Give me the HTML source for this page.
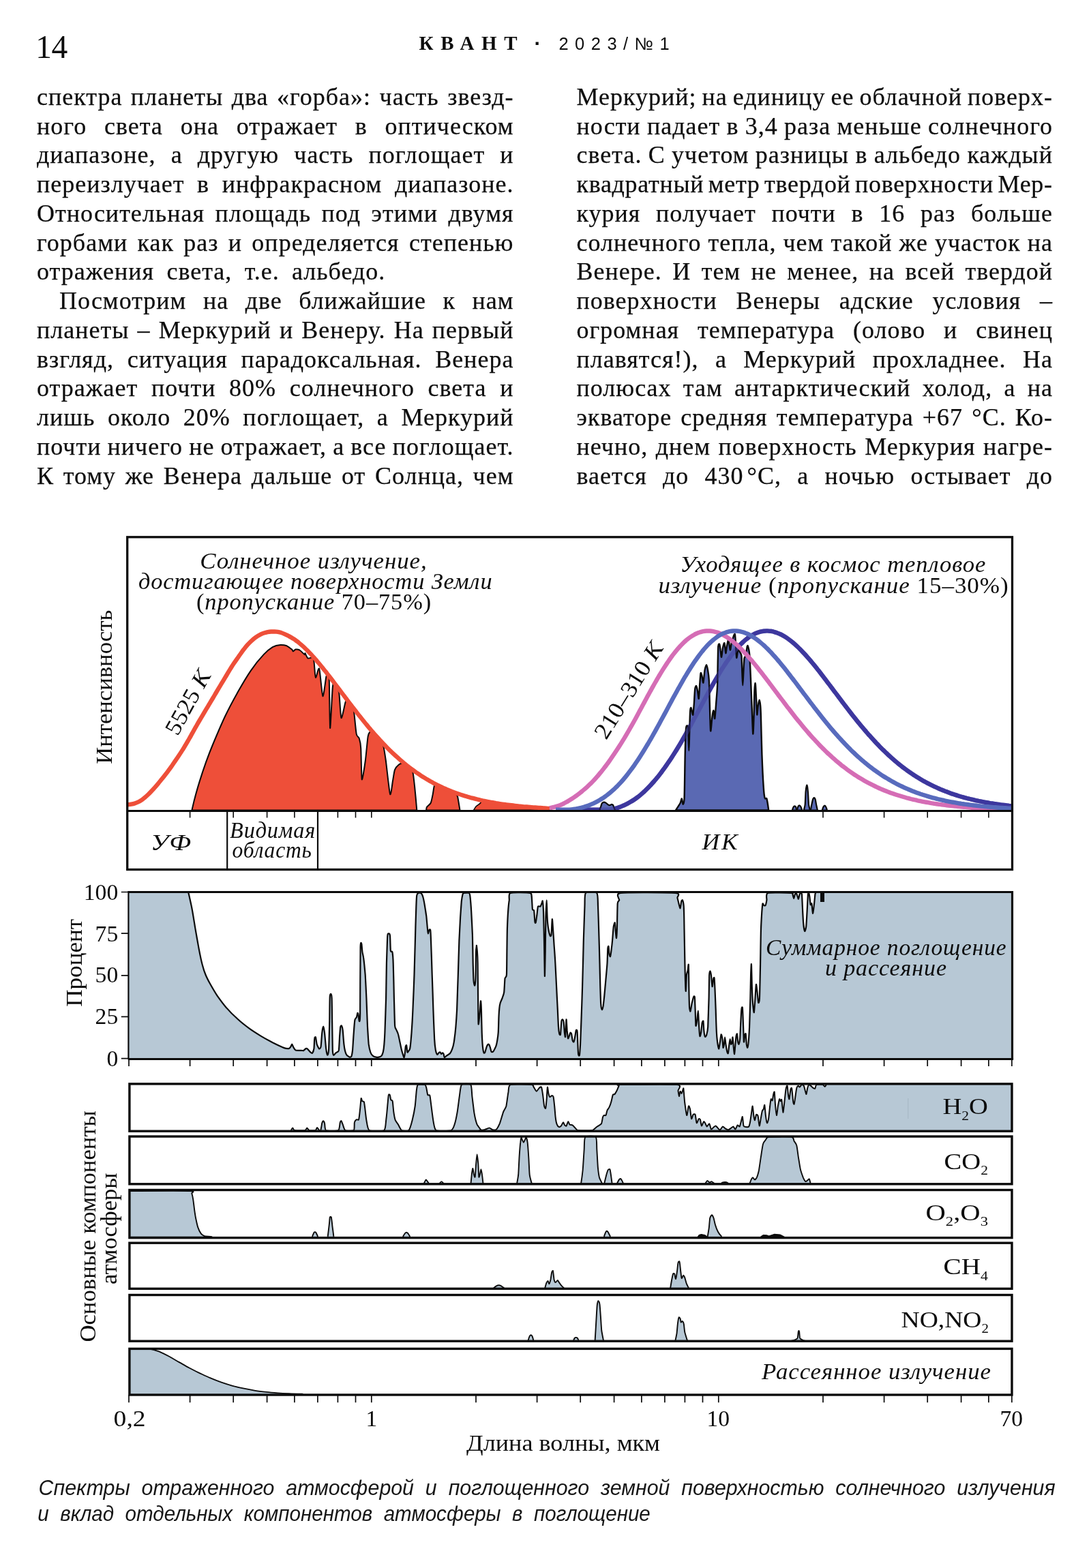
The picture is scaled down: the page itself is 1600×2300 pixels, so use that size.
<!DOCTYPE html>
<html lang="ru"><head><meta charset="utf-8"><title>Квант 2023/№1 — стр. 14</title>
<style>
html,body{margin:0;padding:0;background:#fff}
body{width:1600px;height:2300px;position:relative;overflow:hidden;color:#0d0d0d}
.ln{position:absolute;white-space:nowrap;font:36.0px/42.0px 'Liberation Serif','DejaVu Serif',serif;letter-spacing:1.0px;color:#0d0d0d;-webkit-text-stroke:.25px #0d0d0d}
.pg{position:absolute;left:52.2px;top:43.4px;font:47.5px/52px "Liberation Serif",serif;letter-spacing:-.5px}
.kv{position:absolute;left:614.5px;top:46px;font:bold 29px/34px "Liberation Serif",serif;letter-spacing:10.7px;white-space:nowrap}
.dot{position:absolute;left:783.6px;top:46.7px;font:bold 30px/34px "Liberation Sans",sans-serif}
.iss{position:absolute;left:819.4px;top:46.8px;font:25.5px/34px "Liberation Sans",sans-serif;letter-spacing:9.5px;white-space:nowrap}
.cap{position:absolute;left:57px;font:italic 30px/36px "Liberation Sans",sans-serif;white-space:nowrap;letter-spacing:.5px}
svg{position:absolute;left:0;top:0}
</style></head>
<body>
<div class="pg">14</div>
<div class="kv">КВАНТ</div><div class="dot">·</div><div class="iss">2023/№1</div>
<div class="ln" style="left:54.0px;top:120.75px;word-spacing:2.45px;">спектра планеты два «горба»: часть звезд-</div>
<div class="ln" style="left:54.0px;top:163.50px;word-spacing:15.80px;">ного света она отражает в оптическом</div>
<div class="ln" style="left:54.0px;top:206.25px;word-spacing:12.07px;">диапазоне, а другую часть поглощает и</div>
<div class="ln" style="left:54.0px;top:249.00px;word-spacing:8.60px;">переизлучает в инфракрасном диапазоне.</div>
<div class="ln" style="left:54.0px;top:291.75px;word-spacing:5.45px;">Относительная площадь под этими двумя</div>
<div class="ln" style="left:54.0px;top:334.50px;word-spacing:4.32px;">горбами как раз и определяется степенью</div>
<div class="ln" style="left:54.0px;top:377.25px;word-spacing:8.3px;">отражения света, т.е. альбедо.</div>
<div class="ln" style="left:87.0px;top:420.00px;word-spacing:14.50px;">Посмотрим на две ближайшие к нам</div>
<div class="ln" style="left:54.0px;top:462.75px;word-spacing:2.17px;">планеты – Меркурий и Венеру. На первый</div>
<div class="ln" style="left:54.0px;top:505.50px;word-spacing:9.72px;">взгляд, ситуация парадоксальная. Венера</div>
<div class="ln" style="left:54.0px;top:548.25px;word-spacing:9.72px;">отражает почти 80% солнечного света и</div>
<div class="ln" style="left:54.0px;top:591.00px;word-spacing:8.62px;">лишь около 20% поглощает, а Меркурий</div>
<div class="ln" style="left:54.0px;top:633.75px;word-spacing:-0.87px;">почти ничего не отражает, а все поглощает.</div>
<div class="ln" style="left:54.0px;top:676.50px;word-spacing:3.67px;">К тому же Венера дальше от Солнца, чем</div>
<div class="ln" style="left:845.5px;top:120.75px;word-spacing:-2.04px;">Меркурий; на единицу ее облачной поверх-</div>
<div class="ln" style="left:845.5px;top:163.50px;word-spacing:-0.71px;">ности падает в 3,4 раза меньше солнечного</div>
<div class="ln" style="left:845.5px;top:206.25px;word-spacing:-0.66px;">света. С учетом разницы в альбедо каждый</div>
<div class="ln" style="left:845.5px;top:249.00px;letter-spacing:0.70px;word-spacing:-3.20px;">квадратный метр твердой поверхности Мер-</div>
<div class="ln" style="left:845.5px;top:291.75px;word-spacing:12.76px;">курия получает почти в 16 раз больше</div>
<div class="ln" style="left:845.5px;top:334.50px;word-spacing:0.02px;">солнечного тепла, чем такой же участок на</div>
<div class="ln" style="left:845.5px;top:377.25px;word-spacing:5.47px;">Венере. И тем не менее, на всей твердой</div>
<div class="ln" style="left:845.5px;top:420.00px;word-spacing:17.78px;">поверхности Венеры адские условия –</div>
<div class="ln" style="left:845.5px;top:462.75px;word-spacing:16.89px;">огромная температура (олово и свинец</div>
<div class="ln" style="left:845.5px;top:505.50px;word-spacing:14.42px;">плавятся!), а Меркурий прохладнее. На</div>
<div class="ln" style="left:845.5px;top:548.25px;word-spacing:7.30px;">полюсах там антарктический холод, а на</div>
<div class="ln" style="left:845.5px;top:591.00px;word-spacing:3.12px;">экваторе средняя температура +67 °С. Ко-</div>
<div class="ln" style="left:845.5px;top:633.75px;word-spacing:1.45px;">нечно, днем поверхность Меркурия нагре-</div>
<div class="ln" style="left:845.5px;top:676.50px;word-spacing:13.25px;">вается до 430<span style="letter-spacing:-4px;word-spacing:0"> </span>°С, а ночью остывает до</div>
<svg width="1600" height="2300" viewBox="0 0 1600 2300">
<g stroke-linejoin="round" stroke-linecap="butt">
<path d="M281.4 1188.4C281.9 1186.5 283.9 1177.3 285.2 1172.4C286.5 1167.5 290.7 1152.5 292.7 1146.1C294.7 1139.7 299.9 1124.1 302.1 1117.9C304.3 1111.8 308.2 1101.4 311.5 1093.5C314.8 1085.6 325.9 1059.5 330.3 1050.3C334.7 1041.1 344.7 1022.4 349.1 1014.6C353.5 1006.8 363.5 990 367.9 983.6C372.2 977.2 382.9 964.1 386.7 960.1C390.4 956.1 397 950.9 399.8 949.2C402.7 947.6 408.7 946.2 411.1 946C413.5 945.8 418.5 946.6 420.5 947.3C422.4 948.1 426.9 951.7 428 952.6C429.1 953.5 429.2 955.4 429.9 955.4C430.5 955.4 432.5 952.8 433.6 952.6C434.7 952.4 437.7 952.7 439.3 953.5C440.8 954.4 445.8 959.6 446.8 960.1C447.7 960.7 447 957.6 447.5 958.2C448 958.9 450.3 964.6 451.3 965.4C452.3 966.1 455.1 965.1 456 964.8C456.9 964.5 458.4 962.2 459 963.1C459.5 964 460.2 968.7 460.7 972.3C461.1 975.9 462 992.9 462.9 993.9C463.8 994.9 467 977.6 468.2 980.8C469.4 984 472.2 1019.9 473.4 1021.2C474.6 1022.5 477.6 995.6 478.5 992.1C479.5 988.5 481 989.9 481.5 990.5C482 991.2 482.5 988.6 482.8 997.7C483.1 1006.7 483.6 1067 484.1 1068.1C484.7 1069.2 487.1 1014.7 487.9 1007.1C488.7 999.5 490.1 1002.7 490.9 1002.9C491.7 1003 494.2 1006.6 494.9 1008.2C495.7 1009.8 496.6 1011.2 497.3 1016.5C498 1021.7 499.4 1051.6 500.5 1053.1C501.6 1054.6 505.6 1032.6 506.7 1029.6C507.8 1026.7 508.9 1027.4 509.7 1027.9C510.5 1028.3 512.8 1031.9 513.7 1033.1C514.6 1034.4 517 1036.9 517.7 1038.4C518.3 1039.8 518.7 1041.1 519.3 1045.6C519.9 1050.1 521.8 1072.2 522.7 1076.6C523.5 1081 526 1080.8 526.8 1083.2C527.6 1085.6 528.8 1090.2 529.2 1097.3C529.7 1104.3 530 1141.1 530.7 1143.3C531.5 1145.5 534.8 1123.4 535.8 1116C536.8 1108.7 538.8 1085.3 539.6 1080.3C540.3 1075.4 541.7 1074.7 542.4 1073.8C543.1 1072.9 544.6 1072.4 545.4 1072.8C546.2 1073.2 548.5 1076.4 549.4 1077.4C550.3 1078.5 552.5 1080.9 553.4 1082C554.3 1083 556.4 1085 557.4 1086.4C558.4 1087.7 561.1 1090 562.1 1093.5C563.1 1097 564.7 1107.7 565.9 1116C567 1124.4 570.9 1161.6 572.1 1164.9C573.3 1168.2 575.4 1148.4 576.2 1144.2C577 1140.1 578 1131.8 579 1129.2C580 1126.6 583.3 1122.8 584.7 1121.7C586 1120.5 589.3 1119.5 590.3 1119.4C591.3 1119.3 592.5 1120.2 593.3 1120.7C594.1 1121.2 596.4 1123.2 597.3 1123.9C598.2 1124.7 600.4 1126.1 601.3 1127C602.2 1128 604.5 1128.9 605.3 1132C606.1 1135.1 607.4 1147 608.1 1153.6C608.8 1160.2 611 1184.3 611.3 1188.4Z" fill="#ee4f39" stroke="#0b0b0b" stroke-width="2"/>
<path d="M625 1188.4C625.2 1187.8 625.2 1184.9 626 1183.7C626.8 1182.5 630.6 1180 631.6 1178C632.6 1176.1 633.8 1169.7 634.4 1166.8C635.1 1163.8 636.2 1154.5 636.9 1152.7C637.5 1150.9 639.1 1151.4 639.9 1151.5C640.7 1151.6 642.9 1153.1 643.9 1153.5C644.8 1154 646.9 1155 647.9 1155.4C648.8 1155.9 650.9 1156.8 651.9 1157.2C652.8 1157.7 654.9 1158.6 655.9 1159C656.8 1159.4 658.9 1160.3 659.9 1160.7C660.8 1161 662.9 1161.9 663.9 1162.2C664.8 1162.6 667 1163 667.9 1163.7C668.7 1164.5 670.3 1165.8 671.1 1168.6C671.8 1171.5 674.1 1186.1 674.5 1188.4Z" fill="#ee4f39" stroke="#0b0b0b" stroke-width="2"/>
<path d="M694.6 1188.4C695 1187.7 697.2 1183.9 698.3 1182.7C699.4 1181.6 702.9 1179.5 703.9 1178.6C705 1177.7 706 1175.4 706.9 1175.1C707.9 1174.8 710.8 1175.9 711.9 1176.2C713.1 1176.4 715.8 1176.9 716.9 1177.2C718.1 1177.4 720.8 1177.9 721.9 1178.1C723.1 1178.3 725.8 1178.8 726.9 1179C728.1 1179.2 730.8 1179.6 731.9 1179.8C733.1 1180 735.8 1180.4 736.9 1180.5C738.1 1180.7 740.8 1181.1 741.9 1181.2C743.1 1181.4 745.8 1181.8 746.9 1181.9C748.1 1182.1 750.8 1182.4 751.9 1182.5C753.1 1182.7 755.8 1183 756.9 1183.1C758.1 1183.2 760.8 1183.5 761.9 1183.6C763.1 1183.7 765.8 1184 766.9 1184.1C768.1 1184.2 770.8 1184.5 771.9 1184.6C773.1 1184.7 775.8 1184.9 776.9 1185C778.1 1185.1 780.8 1185.3 781.9 1185.4C783.1 1185.5 785.8 1185.7 786.9 1185.8C788.1 1185.8 790.8 1186 791.9 1186.1C793.1 1186.2 795.8 1186.3 796.9 1186.4C798.1 1186.5 800.9 1186.5 801.9 1186.7C803 1186.9 805.5 1188.1 806 1188.3Z" fill="#ee4f39" stroke="#0b0b0b" stroke-width="1.6"/>
<path d="M850 1187.7C850.8 1187.7 853.3 1187.7 855 1187.7C856.7 1187.7 858.3 1187.7 860 1187.7C861.7 1187.7 863.3 1187.7 865 1187.7C866.7 1187.7 868.3 1187.7 870 1187.7C871.7 1187.7 873.3 1187.7 875 1187.7C876.7 1187.7 878.3 1187.7 880 1187.7C881.7 1187.7 883.3 1187.7 885 1187.7C886.7 1187.7 888.3 1187.7 890 1187.7C891.7 1187.7 893.3 1187.6 895 1187.4C896.7 1187.2 898.3 1186.8 900 1186.4C901.7 1186 903.3 1185.7 905 1185.2C906.7 1184.7 908.3 1184 910 1183.4C911.7 1182.7 913.3 1182 915 1181.3C916.7 1180.5 918.3 1179.7 920 1178.9C921.7 1178 923.3 1177.1 925 1176.1C926.7 1175.1 928.3 1174.1 930 1173C931.7 1171.9 933.3 1170.7 935 1169.4C936.7 1168.2 938.3 1166.8 940 1165.4C941.7 1164 943.3 1162.5 945 1161C946.7 1159.4 948.3 1157.8 950 1156.1C951.7 1154.4 953.3 1152.5 955 1150.7C956.7 1148.9 958.3 1147.1 960 1145.2C961.7 1143.3 963.3 1141.3 965 1139.2C966.7 1137.1 968.3 1134.9 970 1132.7C971.7 1130.5 973.3 1128.1 975 1125.8C976.7 1123.5 978.3 1121.1 980 1118.7C981.7 1116.2 983.3 1113.8 985 1111.2C986.7 1108.7 988.3 1106.1 990 1103.4C991.7 1100.8 993.3 1098 995 1095.3C996.7 1092.5 998.3 1089.7 1000 1086.8C1001.7 1083.9 1003.3 1081 1005 1078.1C1006.7 1075.1 1008.3 1072.1 1010 1069.1C1011.7 1066.1 1013.3 1063.1 1015 1060C1016.7 1056.9 1018.3 1053.8 1020 1050.7C1021.7 1047.6 1023.3 1044.5 1025 1041.4C1026.7 1038.3 1028.3 1035.2 1030 1032.1C1031.7 1029 1033.3 1025.9 1035 1022.9C1036.7 1019.8 1038.3 1016.7 1040 1013.7C1041.7 1010.7 1043.3 1007.7 1045 1004.8C1046.7 1001.8 1048.3 998.9 1050 996.1C1051.7 993.2 1053.3 990.4 1055 987.6C1056.7 984.9 1058.3 982.2 1060 979.6C1061.7 977 1063.3 974.4 1065 971.9C1066.7 969.5 1068.3 967.1 1070 964.8C1071.7 962.4 1073.3 960.2 1075 958.1C1076.7 955.9 1078.3 953.9 1080 952C1081.7 950 1083.3 948.2 1085 946.4C1086.7 944.7 1088.3 943 1090 941.5C1091.7 939.9 1093.3 938.5 1095 937.2C1096.7 935.9 1098.3 934.6 1100 933.5C1101.7 932.4 1103.3 931.4 1105 930.6C1106.7 929.7 1108.3 928.9 1110 928.3C1111.7 927.6 1113.3 927.1 1115 926.6C1116.7 926.2 1118.3 925.9 1120 925.7C1121.7 925.5 1123.3 925.4 1125 925.4C1126.7 925.4 1128.3 925.5 1130 925.8C1131.7 926 1133.3 926.3 1135 926.8C1136.7 927.2 1138.3 927.7 1140 928.4C1141.7 929 1143.3 929.7 1145 930.5C1146.7 931.3 1148.3 932.3 1150 933.3C1151.7 934.3 1153.3 935.3 1155 936.5C1156.7 937.7 1158.3 938.9 1160 940.2C1161.7 941.6 1163.3 943 1165 944.4C1166.7 945.9 1168.3 947.4 1170 949C1171.7 950.6 1173.3 952.3 1175 954C1176.7 955.7 1178.3 957.5 1180 959.3C1181.7 961.1 1183.3 963 1185 964.9C1186.7 966.8 1188.3 968.7 1190 970.7C1191.7 972.7 1193.3 974.7 1195 976.8C1196.7 978.9 1198.3 980.9 1200 983.1C1201.7 985.2 1203.3 987.3 1205 989.5C1206.7 991.6 1208.3 993.8 1210 996C1211.7 998.2 1213.3 1000.4 1215 1002.6C1216.7 1004.8 1218.3 1007 1220 1009.2C1221.7 1011.4 1223.3 1013.7 1225 1015.9C1226.7 1018.1 1228.3 1020.3 1230 1022.5C1231.7 1024.8 1233.3 1027 1235 1029.2C1236.7 1031.4 1238.3 1033.6 1240 1035.7C1241.7 1037.9 1243.3 1040.1 1245 1042.2C1246.7 1044.4 1248.3 1046.5 1250 1048.7C1251.7 1050.8 1253.3 1052.9 1255 1054.9C1256.7 1057 1258.3 1059.1 1260 1061.1C1261.7 1063.2 1263.3 1065.2 1265 1067.1C1266.7 1069.1 1268.3 1071.1 1270 1073C1271.7 1075 1273.3 1076.9 1275 1078.7C1276.7 1080.6 1278.3 1082.5 1280 1084.3C1281.7 1086.1 1283.3 1087.9 1285 1089.7C1286.7 1091.4 1288.3 1093.2 1290 1094.9C1291.7 1096.6 1293.3 1098.2 1295 1099.9C1296.7 1101.5 1298.3 1103.1 1300 1104.7C1301.7 1106.3 1303.3 1107.8 1305 1109.4C1306.7 1110.9 1308.3 1112.4 1310 1113.8C1311.7 1115.3 1313.3 1116.7 1315 1118.1C1316.7 1119.5 1318.3 1120.8 1320 1122.2C1321.7 1123.5 1323.3 1124.8 1325 1126.1C1326.7 1127.3 1328.3 1128.6 1330 1129.8C1331.7 1131 1333.3 1132.2 1335 1133.3C1336.7 1134.5 1338.3 1135.6 1340 1136.7C1341.7 1137.8 1343.3 1138.9 1345 1139.9C1346.7 1141 1348.3 1142 1350 1143C1351.7 1144 1353.3 1144.9 1355 1145.9C1356.7 1146.8 1358.3 1147.7 1360 1148.6C1361.7 1149.5 1363.3 1150.3 1365 1151.2C1366.7 1152 1368.3 1152.8 1370 1153.6C1371.7 1154.4 1373.3 1155.2 1375 1155.9C1376.7 1156.7 1378.3 1157.4 1380 1158.1C1381.7 1158.8 1383.3 1159.5 1385 1160.1C1386.7 1160.8 1388.3 1161.4 1390 1162.1C1391.7 1162.7 1393.3 1163.3 1395 1163.9C1396.7 1164.5 1398.3 1165 1400 1165.6C1401.7 1166.1 1403.3 1166.7 1405 1167.2C1406.7 1167.7 1408.3 1168.2 1410 1168.7C1411.7 1169.2 1413.3 1169.6 1415 1170.1C1416.7 1170.5 1418.3 1171 1420 1171.4C1421.7 1171.8 1423.3 1172.2 1425 1172.6C1426.7 1173 1428.3 1173.4 1430 1173.8C1431.7 1174.2 1433.3 1174.5 1435 1174.9C1436.7 1175.2 1438.3 1175.6 1440 1175.9C1441.7 1176.2 1443.3 1176.5 1445 1176.8C1446.7 1177.1 1448.3 1177.4 1450 1177.7C1451.7 1178 1453.3 1178.3 1455 1178.5C1456.7 1178.8 1458.3 1179 1460 1179.3C1461.7 1179.5 1463.3 1179.8 1465 1180C1466.7 1180.2 1468.3 1180.5 1470 1180.7C1471.7 1180.9 1473.3 1181.1 1475 1181.3C1476.7 1181.5 1478.5 1181.7 1480 1181.9C1481.5 1182 1483.3 1182.2 1484 1182.3" fill="none" stroke="#3d389e" stroke-width="6.4"/>
<path d="M991 1188.4C991.9 1187 996.4 1180.3 997.6 1178C998.8 1175.8 999.3 1171.2 999.8 1171.5C1000.4 1171.7 1001.2 1180 1001.7 1179.9C1002.2 1179.8 1003.2 1180.3 1003.6 1170.5C1004 1160.8 1004.4 1120.2 1004.7 1106.7C1005 1093.1 1005.6 1074.7 1006 1069.1C1006.5 1063.4 1007.5 1064.4 1007.9 1064.4C1008.3 1064.4 1008.9 1064.2 1009.2 1069.1C1009.5 1074 1010.1 1101 1010.3 1101C1010.6 1101 1011 1076.8 1011.3 1069.1C1011.5 1061.3 1011.9 1046.9 1012.2 1042.8C1012.5 1038.6 1013.2 1037.8 1013.5 1038.1C1013.9 1038.3 1014.7 1043.3 1015 1044.7C1015.4 1046 1016 1050.2 1016.4 1048.4C1016.7 1046.7 1017.5 1036.5 1017.9 1031.5C1018.2 1026.5 1018.8 1014.2 1019.2 1010.8C1019.6 1007.5 1020.6 1005.9 1021.1 1006.1C1021.6 1006.4 1022.4 1010.2 1022.9 1012.7C1023.4 1015.2 1024.4 1025.9 1024.8 1024.9C1025.2 1023.9 1025.8 1010.2 1026.1 1005.2C1026.5 1000.2 1027.2 989.1 1027.6 987.4C1028.1 985.6 1029 990.2 1029.5 992.1C1030 993.9 1030.8 1002.7 1031.4 1001.4C1031.9 1000.2 1033 986.2 1033.6 982.7C1034.3 979.2 1035.5 975.1 1036.1 975.1C1036.7 975.1 1037.5 979.7 1038 982.7C1038.5 985.7 1039.5 991.2 1039.8 997.7C1040.2 1004.2 1040.5 1021.6 1040.8 1031.5C1041.1 1041.4 1041.7 1068.6 1042.1 1071.9C1042.5 1075.2 1043.5 1059.6 1044 1055.9C1044.4 1052.3 1045.1 1046.4 1045.5 1044.7C1045.9 1042.9 1046.4 1041.5 1046.8 1042.8C1047.2 1044 1047.8 1055.6 1048.3 1054C1048.7 1052.5 1049.7 1038 1050.2 1031.5C1050.7 1025 1051.7 1014 1052.1 1005.2C1052.4 996.4 1052.6 973.5 1052.8 965.8C1053 958 1053 949.7 1053.4 947C1053.7 944.2 1054.8 944.1 1055.2 945.1C1055.7 946.1 1056.4 952 1056.7 954.5C1057.1 957 1057.6 964.4 1058.1 963.9C1058.5 963.4 1059.4 953.5 1059.9 950.7C1060.5 948 1061.8 942.2 1062.4 943.2C1063 944.2 1063.8 957.7 1064.3 958.2C1064.8 958.7 1065.6 949.6 1066.1 947C1066.7 944.3 1067.8 937.6 1068.4 938.5C1069 939.4 1070.3 952.9 1070.8 953.5C1071.4 954.2 1072.2 945.6 1072.7 943.2C1073.3 940.8 1074.3 937.4 1075 935.7C1075.6 933.9 1077.2 928.6 1077.8 930.1C1078.3 931.6 1078.8 942.3 1079.1 947C1079.4 951.6 1079.9 963.6 1080.2 964.8C1080.6 966.1 1081.4 958 1081.7 956.4C1082.1 954.7 1082.6 952.6 1083.1 952.6C1083.5 952.6 1084.4 955.1 1084.9 956.4C1085.5 957.6 1086.9 958.2 1087.4 962C1087.8 965.8 1088.1 978.8 1088.3 984.5C1088.6 990.3 1089 1005.2 1089.3 1005.2C1089.5 1005.2 1090.1 989.8 1090.4 984.5C1090.7 979.3 1091.1 968.8 1091.5 965.8C1092 962.7 1093.3 964 1093.8 962C1094.3 960 1094.9 952.7 1095.3 950.7C1095.6 948.7 1096.2 946.7 1096.6 947C1097 947.2 1097.7 950.6 1098.1 952.6C1098.5 954.6 1099 956.5 1099.4 962C1099.8 967.5 1100.4 983.4 1100.9 993.9C1101.3 1004.5 1102.3 1029.9 1102.8 1040.9C1103.2 1051.9 1103.9 1075.3 1104.3 1076.6C1104.7 1077.8 1105.3 1058.8 1105.6 1050.3C1105.9 1041.8 1106.2 1019.1 1106.5 1012.7C1106.8 1006.3 1107.5 1000.4 1107.8 1002.4C1108.2 1004.4 1108.8 1021.6 1109.2 1027.7C1109.5 1033.9 1109.9 1047.4 1110.3 1048.4C1110.6 1049.4 1111.3 1038.1 1111.8 1035.3C1112.2 1032.4 1113.2 1026.8 1113.7 1026.8C1114.1 1026.8 1114.9 1032.1 1115.2 1035.3C1115.5 1038.4 1115.6 1040.8 1115.9 1050.3C1116.2 1059.8 1116.9 1092.9 1117.4 1106.7C1117.9 1120.4 1119.1 1145.1 1119.7 1153.6C1120.2 1162.1 1120.9 1168.1 1121.6 1170.5C1122.2 1172.9 1123.8 1170 1124.4 1171.5C1125 1173 1125.9 1179.5 1126.3 1181.8C1126.6 1184.1 1127.1 1187.5 1127.2 1188.4Z" fill="#5a69b3" stroke="#0b0b0b" stroke-width="2.4"/>
<path d="M879.4 1188.2C879.6 1187.6 880.9 1183.7 881.3 1182.6C881.7 1181.4 882.4 1178.9 882.9 1178.2C883.4 1177.5 885 1176.7 885.7 1176.6C886.4 1176.6 888 1177.4 888.8 1177.9C889.6 1178.4 891.9 1180.3 892.6 1180.7C893.3 1181.1 894.3 1181.1 894.8 1181C895.3 1180.9 896.5 1179.8 897 1179.8C897.5 1179.8 898.8 1180.5 899.2 1181C899.5 1181.5 899.8 1183 900.1 1183.8C900.4 1184.7 901.8 1187.7 902 1188.2" fill="#5a69b3" stroke="#0b0b0b" stroke-width="2.2" stroke-linejoin="round"/>
<path d="M1161.9 1188.5C1162.1 1188.1 1162.8 1185.2 1163.2 1184.5C1163.6 1183.7 1164.9 1182.4 1165.4 1182.3C1165.8 1182.2 1166.9 1183.1 1167.2 1183.9C1167.6 1184.6 1168.1 1188 1168.2 1188.5Z" fill="#5a69b3" stroke="#0b0b0b" stroke-width="2.2" stroke-linejoin="round"/>
<path d="M1168.9 1188.5C1169.1 1188 1169.7 1184.7 1170.1 1183.9C1170.4 1183 1171.7 1181.4 1172.2 1181.3C1172.8 1181.3 1174 1182.4 1174.4 1183.2C1174.9 1184.1 1176.1 1187.9 1176.3 1188.5Z" fill="#5a69b3" stroke="#0b0b0b" stroke-width="2.2" stroke-linejoin="round"/>
<path d="M1178.8 1188.5C1179 1187.6 1180.4 1183.3 1180.7 1180.1C1181 1176.9 1181.4 1164.5 1181.6 1161.3C1181.9 1158.1 1182.6 1153.6 1182.9 1152.5C1183.1 1151.5 1183.6 1151.4 1183.8 1152.5C1184.1 1153.7 1184.7 1159.3 1185 1162.6C1185.2 1165.8 1185.7 1177.1 1186 1180.1C1186.4 1183.1 1187.7 1187.6 1187.9 1188.5Z" fill="#5a69b3" stroke="#0b0b0b" stroke-width="2.2" stroke-linejoin="round"/>
<path d="M1188.8 1188.5C1189 1187.6 1190 1182 1190.4 1180.1C1190.8 1178.2 1191.9 1173.1 1192.3 1172C1192.7 1170.8 1193.6 1170 1194 1170.1C1194.4 1170.1 1195.3 1171.3 1195.7 1172.6C1196.1 1173.9 1196.9 1179.5 1197.3 1181.3C1197.7 1183.2 1198.7 1187.7 1198.9 1188.5Z" fill="#5a69b3" stroke="#0b0b0b" stroke-width="2.2" stroke-linejoin="round"/>
<path d="M1205.7 1188.5C1205.9 1188 1206.9 1184.7 1207.3 1183.9C1207.8 1183 1209 1181.7 1209.5 1181.7C1210 1181.7 1211 1183 1211.4 1183.9C1211.8 1184.7 1212.8 1188 1212.9 1188.5Z" fill="#5a69b3" stroke="#0b0b0b" stroke-width="2.2" stroke-linejoin="round"/>
<path d="M187.5 1180.3C188.3 1180.2 190.8 1180 192.5 1179.7C194.2 1179.4 195.8 1179.1 197.5 1178.5C199.2 1178 200.8 1177.3 202.5 1176.5C204.2 1175.7 205.8 1174.8 207.5 1173.7C209.2 1172.5 210.8 1171.1 212.5 1169.7C214.2 1168.3 215.8 1166.8 217.5 1165.2C219.2 1163.6 220.8 1161.9 222.5 1160.1C224.2 1158.4 225.8 1156.5 227.5 1154.6C229.2 1152.7 230.8 1150.8 232.5 1148.7C234.2 1146.7 235.8 1144.5 237.5 1142.5C239.2 1140.4 240.8 1138.4 242.5 1136.3C244.2 1134.2 245.8 1132 247.5 1129.7C249.2 1127.4 250.8 1125.1 252.5 1122.7C254.2 1120.3 255.8 1117.8 257.5 1115.4C259.2 1112.9 260.8 1110.5 262.5 1108C264.2 1105.5 265.8 1103 267.5 1100.4C269.2 1097.7 270.8 1094.9 272.5 1092.1C274.2 1089.3 275.8 1086.4 277.5 1083.5C279.2 1080.6 280.8 1077.6 282.5 1074.7C284.2 1071.7 285.8 1068.6 287.5 1065.7C289.2 1062.7 290.8 1059.8 292.5 1057C294.2 1054.1 295.8 1051.4 297.5 1048.6C299.2 1045.8 300.8 1043 302.5 1040.2C304.2 1037.5 305.8 1034.7 307.5 1031.9C309.2 1029.1 310.8 1026.3 312.5 1023.5C314.2 1020.7 315.8 1017.8 317.5 1015C319.2 1012.2 320.8 1009.3 322.5 1006.6C324.2 1003.8 325.8 1001.1 327.5 998.3C329.2 995.5 330.8 992.8 332.5 990C334.2 987.2 335.8 984.3 337.5 981.6C339.2 979 340.8 976.3 342.5 973.8C344.2 971.3 345.8 969 347.5 966.6C349.2 964.2 350.8 961.8 352.5 959.5C354.2 957.1 355.8 954.7 357.5 952.6C359.2 950.4 360.8 948.3 362.5 946.4C364.2 944.5 365.8 942.8 367.5 941.2C369.2 939.6 370.8 938.1 372.5 936.7C374.2 935.4 375.8 934.2 377.5 933.2C379.2 932.1 380.8 931.2 382.5 930.4C384.2 929.6 385.8 929 387.5 928.4C389.2 927.9 390.8 927.4 392.5 927.1C394.2 926.8 395.8 926.6 397.5 926.5C399.2 926.4 400.8 926.4 402.5 926.4C404.2 926.5 405.8 926.6 407.5 926.9C409.2 927.2 410.8 927.6 412.5 928.1C414.2 928.7 415.8 929.4 417.5 930.2C419.2 930.9 420.8 931.7 422.5 932.5C424.2 933.4 425.8 934.2 427.5 935.2C429.2 936.2 430.8 937.3 432.5 938.4C434.2 939.6 435.8 940.8 437.5 942.1C439.2 943.5 440.8 944.9 442.5 946.4C444.2 947.8 445.8 949.4 447.5 951C449.2 952.6 450.8 954.3 452.5 956C454.2 957.7 455.8 959.5 457.5 961.3C459.2 963.1 460.8 965 462.5 966.9C464.2 968.8 465.8 970.8 467.5 972.8C469.2 974.8 470.8 976.8 472.5 978.9C474.2 980.9 475.8 983 477.5 985.1C479.2 987.2 480.8 989.4 482.5 991.5C484.2 993.7 485.8 995.8 487.5 998C489.2 1000.2 490.8 1002.4 492.5 1004.6C494.2 1006.8 495.8 1009 497.5 1011.2C499.2 1013.4 500.8 1015.7 502.5 1017.9C504.2 1020.1 505.8 1022.3 507.5 1024.5C509.2 1026.7 510.8 1028.9 512.5 1031.1C514.2 1033.3 515.8 1035.5 517.5 1037.7C519.2 1039.8 520.8 1042 522.5 1044.1C524.2 1046.3 525.8 1048.4 527.5 1050.5C529.2 1052.6 530.8 1054.7 532.5 1056.8C534.2 1058.8 535.8 1060.9 537.5 1062.9C539.2 1064.9 540.8 1066.9 542.5 1068.9C544.2 1070.9 545.8 1072.8 547.5 1074.7C549.2 1076.7 550.8 1078.5 552.5 1080.4C554.2 1082.3 555.8 1084.1 557.5 1085.9C559.2 1087.7 560.8 1089.5 562.5 1091.2C564.2 1093 565.8 1094.7 567.5 1096.4C569.2 1098.1 570.8 1099.7 572.5 1101.4C574.2 1103 575.8 1104.6 577.5 1106.1C579.2 1107.7 580.8 1109.2 582.5 1110.7C584.2 1112.2 585.8 1113.7 587.5 1115.1C589.2 1116.6 590.8 1118 592.5 1119.4C594.2 1120.7 595.8 1122.1 597.5 1123.4C599.2 1124.7 600.8 1126 602.5 1127.3C604.2 1128.5 605.8 1129.7 607.5 1130.9C609.2 1132.1 610.8 1133.3 612.5 1134.4C614.2 1135.6 615.8 1136.7 617.5 1137.8C619.2 1138.9 620.8 1139.9 622.5 1140.9C624.2 1142 625.8 1143 627.5 1143.9C629.2 1144.9 630.8 1145.9 632.5 1146.8C634.2 1147.7 635.8 1148.6 637.5 1149.5C639.2 1150.4 640.8 1151.2 642.5 1152C644.2 1152.9 645.8 1153.7 647.5 1154.4C649.2 1155.2 650.8 1156 652.5 1156.7C654.2 1157.4 655.8 1158.2 657.5 1158.8C659.2 1159.5 660.8 1160.2 662.5 1160.9C664.2 1161.5 665.8 1162.1 667.5 1162.8C669.2 1163.4 670.8 1164 672.5 1164.5C674.2 1165.1 675.8 1165.7 677.5 1166.2C679.2 1166.7 680.8 1167.3 682.5 1167.8C684.2 1168.3 685.8 1168.8 687.5 1169.2C689.2 1169.7 690.8 1170.2 692.5 1170.6C694.2 1171.1 695.8 1171.5 697.5 1171.9C699.2 1172.3 700.8 1172.7 702.5 1173.1C704.2 1173.5 705.8 1173.9 707.5 1174.3C709.2 1174.6 710.8 1175 712.5 1175.3C714.2 1175.7 715.8 1176 717.5 1176.3C719.2 1176.6 720.8 1176.9 722.5 1177.2C724.2 1177.5 725.8 1177.8 727.5 1178.1C729.2 1178.3 730.8 1178.6 732.5 1178.9C734.2 1179.1 735.8 1179.4 737.5 1179.6C739.2 1179.8 740.8 1180.1 742.5 1180.3C744.2 1180.5 745.8 1180.7 747.5 1180.9C749.2 1181.1 750.8 1181.3 752.5 1181.5C754.2 1181.7 755.8 1181.9 757.5 1182.1C759.2 1182.3 760.8 1182.4 762.5 1182.6C764.2 1182.8 765.8 1182.9 767.5 1183.1C769.2 1183.2 770.8 1183.4 772.5 1183.5C774.2 1183.7 775.8 1183.8 777.5 1183.9C779.2 1184.1 780.8 1184.2 782.5 1184.3C784.2 1184.4 785.8 1184.6 787.5 1184.7C789.2 1184.8 790.8 1184.9 792.5 1185C794.2 1185.1 795.8 1185.2 797.5 1185.3C799.2 1185.4 801.1 1185.5 802.5 1185.6C803.9 1185.6 805.4 1185.7 806 1185.8" fill="none" stroke="#ee4f39" stroke-width="6.3"/>
<path d="M850 1187.7C850.8 1187.7 853.3 1187.7 855 1187.7C856.7 1187.7 858.3 1187.7 860 1187.7C861.7 1187.7 863.3 1187.7 865 1187.7C866.7 1187.7 868.3 1187.7 870 1187.7C871.7 1187.7 873.3 1187.7 875 1187.7C876.7 1187.7 878.3 1187.7 880 1187.7C881.7 1187.7 883.3 1187.7 885 1187.7C886.7 1187.7 888.3 1187.7 890 1187.7C891.7 1187.7 893.3 1187.6 895 1187.4C896.7 1187.2 898.3 1186.8 900 1186.4C901.7 1186 903.3 1185.7 905 1185.2C906.7 1184.7 908.3 1184 910 1183.4C911.7 1182.7 913.3 1182 915 1181.3C916.7 1180.5 918.3 1179.7 920 1178.9C921.7 1178 923.3 1177.1 925 1176.1C926.7 1175.1 928.3 1174.1 930 1173C931.7 1171.9 933.3 1170.7 935 1169.4C936.7 1168.2 938.3 1166.8 940 1165.4C941.7 1164 943.3 1162.5 945 1161C946.7 1159.4 948.3 1157.8 950 1156.1C951.7 1154.4 953.3 1152.5 955 1150.7C956.7 1148.9 958.3 1147.1 960 1145.2C961.7 1143.3 963.3 1141.3 965 1139.2C966.7 1137.1 968.3 1134.9 970 1132.7C971.7 1130.5 973.3 1128.1 975 1125.8C976.7 1123.5 978.3 1121.1 980 1118.7C981.7 1116.2 983.3 1113.8 985 1111.2C986.7 1108.7 988.3 1106.1 990 1103.4C991.7 1100.8 993.3 1098 995 1095.3C996.7 1092.5 998.3 1089.7 1000 1086.8C1001.7 1083.9 1003.3 1081 1005 1078.1C1006.7 1075.1 1008.3 1072.1 1010 1069.1C1011.7 1066.1 1013.3 1063.1 1015 1060C1016.7 1056.9 1018.3 1053.8 1020 1050.7C1021.7 1047.6 1023.3 1044.5 1025 1041.4C1026.7 1038.3 1028.3 1035.2 1030 1032.1C1031.7 1029 1033.3 1025.9 1035 1022.9C1036.7 1019.8 1038.3 1016.7 1040 1013.7C1041.7 1010.7 1043.3 1007.7 1045 1004.8C1046.7 1001.8 1048.3 998.9 1050 996.1C1051.7 993.2 1053.3 990.4 1055 987.6C1056.7 984.9 1058.3 982.2 1060 979.6C1061.7 977 1063.3 974.4 1065 971.9C1066.7 969.5 1068.3 967.1 1070 964.8C1071.7 962.4 1073.3 960.2 1075 958.1C1076.7 955.9 1078.3 953.9 1080 952C1081.7 950 1083.3 948.2 1085 946.4C1086.7 944.7 1088.3 943 1090 941.5C1091.7 939.9 1093.3 938.5 1095 937.2C1096.7 935.9 1098.3 934.6 1100 933.5C1101.7 932.4 1103.3 931.4 1105 930.6C1106.7 929.7 1108.3 928.9 1110 928.3C1111.7 927.6 1113.3 927.1 1115 926.6C1116.7 926.2 1118.3 925.9 1120 925.7C1121.7 925.5 1123.3 925.4 1125 925.4C1126.7 925.4 1128.3 925.5 1130 925.8C1131.7 926 1133.3 926.3 1135 926.8C1136.7 927.2 1138.3 927.7 1140 928.4C1141.7 929 1143.3 929.7 1145 930.5C1146.7 931.3 1148.3 932.3 1150 933.3C1151.7 934.3 1153.3 935.3 1155 936.5C1156.7 937.7 1158.3 938.9 1160 940.2C1161.7 941.6 1163.3 943 1165 944.4C1166.7 945.9 1168.3 947.4 1170 949C1171.7 950.6 1173.3 952.3 1175 954C1176.7 955.7 1178.3 957.5 1180 959.3C1181.7 961.1 1183.3 963 1185 964.9C1186.7 966.8 1188.3 968.7 1190 970.7C1191.7 972.7 1193.3 974.7 1195 976.8C1196.7 978.9 1198.3 980.9 1200 983.1C1201.7 985.2 1203.3 987.3 1205 989.5C1206.7 991.6 1208.3 993.8 1210 996C1211.7 998.2 1213.3 1000.4 1215 1002.6C1216.7 1004.8 1218.3 1007 1220 1009.2C1221.7 1011.4 1223.3 1013.7 1225 1015.9C1226.7 1018.1 1228.3 1020.3 1230 1022.5C1231.7 1024.8 1233.3 1027 1235 1029.2C1236.7 1031.4 1238.3 1033.6 1240 1035.7C1241.7 1037.9 1243.3 1040.1 1245 1042.2C1246.7 1044.4 1248.3 1046.5 1250 1048.7C1251.7 1050.8 1253.3 1052.9 1255 1054.9C1256.7 1057 1258.3 1059.1 1260 1061.1C1261.7 1063.2 1263.3 1065.2 1265 1067.1C1266.7 1069.1 1268.3 1071.1 1270 1073C1271.7 1075 1273.3 1076.9 1275 1078.7C1276.7 1080.6 1278.3 1082.5 1280 1084.3C1281.7 1086.1 1283.3 1087.9 1285 1089.7C1286.7 1091.4 1288.3 1093.2 1290 1094.9C1291.7 1096.6 1293.3 1098.2 1295 1099.9C1296.7 1101.5 1298.3 1103.1 1300 1104.7C1301.7 1106.3 1303.3 1107.8 1305 1109.4C1306.7 1110.9 1308.3 1112.4 1310 1113.8C1311.7 1115.3 1313.3 1116.7 1315 1118.1C1316.7 1119.5 1318.3 1120.8 1320 1122.2C1321.7 1123.5 1323.3 1124.8 1325 1126.1C1326.7 1127.3 1328.3 1128.6 1330 1129.8C1331.7 1131 1333.3 1132.2 1335 1133.3C1336.7 1134.5 1338.3 1135.6 1340 1136.7C1341.7 1137.8 1343.3 1138.9 1345 1139.9C1346.7 1141 1348.3 1142 1350 1143C1351.7 1144 1353.3 1144.9 1355 1145.9C1356.7 1146.8 1358.3 1147.7 1360 1148.6C1361.7 1149.5 1363.3 1150.3 1365 1151.2C1366.7 1152 1368.3 1152.8 1370 1153.6C1371.7 1154.4 1373.3 1155.2 1375 1155.9C1376.7 1156.7 1378.3 1157.4 1380 1158.1C1381.7 1158.8 1383.3 1159.5 1385 1160.1C1386.7 1160.8 1388.3 1161.4 1390 1162.1C1391.7 1162.7 1393.3 1163.3 1395 1163.9C1396.7 1164.5 1398.3 1165 1400 1165.6C1401.7 1166.1 1403.3 1166.7 1405 1167.2C1406.7 1167.7 1408.3 1168.2 1410 1168.7C1411.7 1169.2 1413.3 1169.6 1415 1170.1C1416.7 1170.5 1418.3 1171 1420 1171.4C1421.7 1171.8 1423.3 1172.2 1425 1172.6C1426.7 1173 1428.3 1173.4 1430 1173.8C1431.7 1174.2 1433.3 1174.5 1435 1174.9C1436.7 1175.2 1438.3 1175.6 1440 1175.9C1441.7 1176.2 1443.3 1176.5 1445 1176.8C1446.7 1177.1 1448.3 1177.4 1450 1177.7C1451.7 1178 1453.3 1178.3 1455 1178.5C1456.7 1178.8 1458.3 1179 1460 1179.3C1461.7 1179.5 1463.3 1179.8 1465 1180C1466.7 1180.2 1468.3 1180.5 1470 1180.7C1471.7 1180.9 1473.3 1181.1 1475 1181.3C1476.7 1181.5 1478.5 1181.7 1480 1181.9C1481.5 1182 1483.3 1182.2 1484 1182.3" fill="none" stroke="#3d389e" stroke-width="6.4" opacity="0.45"/>
<path d="M806 1185.4C806.8 1185.2 809.3 1184.6 811 1184.2C812.7 1183.8 814.3 1183.3 816 1182.8C817.7 1182.3 819.3 1181.8 821 1181.2C822.7 1180.6 824.3 1179.8 826 1179C827.7 1178.2 829.3 1177.3 831 1176.3C832.7 1175.4 834.3 1174.3 836 1173.3C837.7 1172.2 839.3 1171.2 841 1170.1C842.7 1169 844.3 1167.8 846 1166.6C847.7 1165.4 849.3 1164.1 851 1162.8C852.7 1161.4 854.3 1160 856 1158.6C857.7 1157.2 859.3 1155.8 861 1154.3C862.7 1152.8 864.3 1151.3 866 1149.6C867.7 1148 869.3 1146.3 871 1144.5C872.7 1142.7 874.3 1140.8 876 1138.9C877.7 1137 879.3 1134.9 881 1132.9C882.7 1130.8 884.3 1128.8 886 1126.6C887.7 1124.5 889.3 1122.2 891 1120C892.7 1117.7 894.3 1115.3 896 1112.9C897.7 1110.5 899.3 1108 901 1105.5C902.7 1103 904.3 1100.6 906 1098C907.7 1095.5 909.3 1092.8 911 1090.2C912.7 1087.5 914.3 1084.8 916 1082.1C917.7 1079.3 919.3 1076.4 921 1073.6C922.7 1070.7 924.3 1067.8 926 1064.9C927.7 1062 929.3 1059 931 1056C932.7 1053 934.3 1049.8 936 1046.7C937.7 1043.6 939.3 1040.5 941 1037.4C942.7 1034.3 944.3 1031.2 946 1028.1C947.7 1025 949.3 1021.9 951 1018.9C952.7 1015.8 954.3 1012.8 956 1009.8C957.7 1006.8 959.3 1003.9 961 1001C962.7 998.1 964.3 995.2 966 992.4C967.7 989.6 969.3 986.8 971 984.1C972.7 981.4 974.3 978.8 976 976.2C977.7 973.7 979.3 971.2 981 968.8C982.7 966.4 984.3 964 986 961.8C987.7 959.6 989.3 957.4 991 955.4C992.7 953.3 994.3 951.3 996 949.5C997.7 947.6 999.3 945.9 1001 944.2C1002.7 942.5 1004.3 941 1006 939.5C1007.7 938.1 1009.3 936.7 1011 935.5C1012.7 934.3 1014.3 933.2 1016 932.2C1017.7 931.2 1019.3 930.3 1021 929.5C1022.7 928.7 1024.3 928 1026 927.5C1027.7 926.9 1029.3 926.5 1031 926.1C1032.7 925.8 1034.3 925.6 1036 925.5C1037.7 925.4 1039.3 925.4 1041 925.5C1042.7 925.6 1044.3 925.8 1046 926.1C1047.7 926.4 1049.3 926.9 1051 927.4C1052.7 927.9 1054.3 928.5 1056 929.2C1057.7 929.9 1059.3 930.7 1061 931.6C1062.7 932.5 1064.3 933.5 1066 934.6C1067.7 935.7 1069.3 936.8 1071 938.1C1072.7 939.3 1074.3 940.6 1076 942C1077.7 943.4 1079.3 944.8 1081 946.4C1082.7 947.9 1084.3 949.5 1086 951.1C1087.7 952.8 1089.3 954.5 1091 956.2C1092.7 958 1094.3 959.8 1096 961.7C1097.7 963.5 1099.3 965.4 1101 967.4C1102.7 969.3 1104.3 971.3 1106 973.3C1107.7 975.3 1109.3 977.4 1111 979.5C1112.7 981.6 1114.3 983.7 1116 985.8C1117.7 987.9 1119.3 990.1 1121 992.3C1122.7 994.4 1124.3 996.6 1126 998.8C1127.7 1001 1129.3 1003.2 1131 1005.4C1132.7 1007.7 1134.3 1009.9 1136 1012.1C1137.7 1014.3 1139.3 1016.5 1141 1018.8C1142.7 1021 1144.3 1023.2 1146 1025.4C1147.7 1027.6 1149.3 1029.8 1151 1032C1152.7 1034.2 1154.3 1036.4 1156 1038.6C1157.7 1040.7 1159.3 1042.9 1161 1045C1162.7 1047.2 1164.3 1049.3 1166 1051.4C1167.7 1053.5 1169.3 1055.6 1171 1057.6C1172.7 1059.7 1174.3 1061.7 1176 1063.7C1177.7 1065.8 1179.3 1067.7 1181 1069.7C1182.7 1071.7 1184.3 1073.6 1186 1075.5C1187.7 1077.4 1189.3 1079.3 1191 1081.2C1192.7 1083 1194.3 1084.8 1196 1086.6C1197.7 1088.4 1199.3 1090.2 1201 1091.9C1202.7 1093.7 1204.3 1095.4 1206 1097.1C1207.7 1098.7 1209.3 1100.4 1211 1102C1212.7 1103.6 1214.3 1105.2 1216 1106.7C1217.7 1108.3 1219.3 1109.8 1221 1111.3C1222.7 1112.8 1224.3 1114.3 1226 1115.7C1227.7 1117.1 1229.3 1118.5 1231 1119.9C1232.7 1121.2 1234.3 1122.6 1236 1123.9C1237.7 1125.2 1239.3 1126.5 1241 1127.7C1242.7 1129 1244.3 1130.2 1246 1131.4C1247.7 1132.5 1249.3 1133.7 1251 1134.8C1252.7 1136 1254.3 1137.1 1256 1138.1C1257.7 1139.2 1259.3 1140.2 1261 1141.3C1262.7 1142.3 1264.3 1143.3 1266 1144.2C1267.7 1145.2 1269.3 1146.1 1271 1147.1C1272.7 1148 1274.3 1148.9 1276 1149.7C1277.7 1150.6 1279.3 1151.4 1281 1152.2C1282.7 1153.1 1284.3 1153.9 1286 1154.6C1287.7 1155.4 1289.3 1156.1 1291 1156.9C1292.7 1157.6 1294.3 1158.3 1296 1159C1297.7 1159.7 1299.3 1160.3 1301 1161C1302.7 1161.6 1304.3 1162.3 1306 1162.9C1307.7 1163.5 1309.3 1164.1 1311 1164.6C1312.7 1165.2 1314.3 1165.8 1316 1166.3C1317.7 1166.8 1319.3 1167.3 1321 1167.8C1322.7 1168.3 1324.3 1168.8 1326 1169.3C1327.7 1169.8 1329.3 1170.2 1331 1170.7C1332.7 1171.1 1334.3 1171.5 1336 1172C1337.7 1172.4 1339.3 1172.8 1341 1173.2C1342.7 1173.5 1344.3 1173.9 1346 1174.3C1347.7 1174.6 1349.3 1175 1351 1175.3C1352.7 1175.7 1354.3 1176 1356 1176.3C1357.7 1176.6 1359.3 1176.9 1361 1177.2C1362.7 1177.5 1364.3 1177.8 1366 1178.1C1367.7 1178.3 1369.3 1178.6 1371 1178.9C1372.7 1179.1 1374.3 1179.4 1376 1179.6C1377.7 1179.8 1379.3 1180.1 1381 1180.3C1382.7 1180.5 1384.3 1180.7 1386 1180.9C1387.7 1181.1 1389.3 1181.3 1391 1181.5C1392.7 1181.7 1394.3 1181.9 1396 1182.1C1397.7 1182.3 1399.3 1182.4 1401 1182.6C1402.7 1182.8 1404.3 1182.9 1406 1183.1C1407.7 1183.2 1409.3 1183.4 1411 1183.5C1412.7 1183.7 1414.3 1183.8 1416 1183.9C1417.7 1184.1 1419.3 1184.2 1421 1184.3C1422.7 1184.4 1424.3 1184.6 1426 1184.7C1427.7 1184.8 1429.3 1184.9 1431 1185C1432.7 1185.1 1434.3 1185.2 1436 1185.3C1437.7 1185.4 1439.3 1185.5 1441 1185.6C1442.7 1185.7 1444.3 1185.8 1446 1185.9C1447.7 1185.9 1449.3 1186 1451 1186.1C1452.7 1186.2 1454.3 1186.3 1456 1186.3C1457.7 1186.4 1459.3 1186.5 1461 1186.5C1462.7 1186.6 1464.3 1186.7 1466 1186.7C1467.7 1186.8 1469.3 1186.8 1471 1186.9C1472.7 1187 1474.3 1187 1476 1187.1C1477.7 1187.1 1479.7 1187.2 1481 1187.2C1482.3 1187.3 1483.5 1187.3 1484 1187.3" fill="none" stroke="#d56db5" stroke-width="6.4"/>
<path d="M815 1187.7C815.8 1187.7 818.3 1187.7 820 1187.7C821.7 1187.7 823.3 1187.7 825 1187.7C826.7 1187.7 828.3 1187.7 830 1187.7C831.7 1187.7 833.3 1187.8 835 1187.7C836.7 1187.6 838.3 1187.5 840 1187.3C841.7 1187.1 843.3 1186.7 845 1186.4C846.7 1186.1 848.3 1185.8 850 1185.4C851.7 1185 853.3 1184.6 855 1184.2C856.7 1183.7 858.3 1183.2 860 1182.6C861.7 1182 863.3 1181.4 865 1180.7C866.7 1180.1 868.3 1179.3 870 1178.6C871.7 1177.8 873.3 1177 875 1176.1C876.7 1175.2 878.3 1174.3 880 1173.3C881.7 1172.3 883.3 1171.2 885 1170.1C886.7 1168.9 888.3 1167.7 890 1166.5C891.7 1165.2 893.3 1163.9 895 1162.5C896.7 1161.1 898.3 1159.7 900 1158.2C901.7 1156.6 903.3 1155 905 1153.4C906.7 1151.7 908.3 1149.9 910 1148.1C911.7 1146.3 913.3 1144.4 915 1142.4C916.7 1140.4 918.3 1138.4 920 1136.2C921.7 1134.1 923.3 1132 925 1129.7C926.7 1127.5 928.3 1125.2 930 1122.8C931.7 1120.4 933.3 1118 935 1115.5C936.7 1113 938.3 1110.4 940 1107.8C941.7 1105.1 943.3 1102.5 945 1099.8C946.7 1097.1 948.3 1094.3 950 1091.5C951.7 1088.7 953.3 1085.8 955 1082.9C956.7 1080 958.3 1077 960 1074.1C961.7 1071.1 963.3 1068.1 965 1065C966.7 1062 968.3 1058.9 970 1055.8C971.7 1052.8 973.3 1049.7 975 1046.6C976.7 1043.5 978.3 1040.3 980 1037.2C981.7 1034.1 983.3 1031 985 1027.9C986.7 1024.9 988.3 1021.8 990 1018.7C991.7 1015.7 993.3 1012.7 995 1009.7C996.7 1006.7 998.3 1003.7 1000 1000.8C1001.7 997.9 1003.3 995 1005 992.2C1006.7 989.4 1008.3 986.7 1010 984C1011.7 981.3 1013.3 978.6 1015 976.1C1016.7 973.5 1018.3 971.1 1020 968.7C1021.7 966.3 1023.3 963.9 1025 961.7C1026.7 959.5 1028.3 957.3 1030 955.3C1031.7 953.2 1033.3 951.2 1035 949.4C1036.7 947.5 1038.3 945.8 1040 944.1C1041.7 942.5 1043.3 940.9 1045 939.5C1046.7 938 1048.3 936.7 1050 935.5C1051.7 934.2 1053.3 933.1 1055 932.1C1056.7 931.1 1058.3 930.2 1060 929.4C1061.7 928.7 1063.3 928 1065 927.4C1066.7 926.9 1068.3 926.5 1070 926.1C1071.7 925.8 1073.3 925.6 1075 925.5C1076.7 925.4 1078.3 925.4 1080 925.5C1081.7 925.6 1083.3 925.8 1085 926.1C1086.7 926.4 1088.3 926.9 1090 927.4C1091.7 927.9 1093.3 928.5 1095 929.3C1096.7 930 1098.3 930.8 1100 931.7C1101.7 932.6 1103.3 933.6 1105 934.7C1106.7 935.7 1108.3 936.9 1110 938.1C1111.7 939.4 1113.3 940.7 1115 942.1C1116.7 943.5 1118.3 944.9 1120 946.4C1121.7 948 1123.3 949.6 1125 951.2C1126.7 952.8 1128.3 954.6 1130 956.3C1131.7 958.1 1133.3 959.9 1135 961.8C1136.7 963.6 1138.3 965.5 1140 967.5C1141.7 969.4 1143.3 971.4 1145 973.4C1146.7 975.5 1148.3 977.5 1150 979.6C1151.7 981.7 1153.3 983.8 1155 985.9C1156.7 988 1158.3 990.2 1160 992.4C1161.7 994.5 1163.3 996.7 1165 998.9C1166.7 1001.1 1168.3 1003.3 1170 1005.6C1171.7 1007.8 1173.3 1010 1175 1012.2C1176.7 1014.4 1178.3 1016.7 1180 1018.9C1181.7 1021.1 1183.3 1023.3 1185 1025.5C1186.7 1027.7 1188.3 1029.9 1190 1032.1C1191.7 1034.3 1193.3 1036.5 1195 1038.7C1196.7 1040.8 1198.3 1043 1200 1045.1C1201.7 1047.3 1203.3 1049.4 1205 1051.5C1206.7 1053.6 1208.3 1055.7 1210 1057.7C1211.7 1059.8 1213.3 1061.8 1215 1063.8C1216.7 1065.9 1218.3 1067.9 1220 1069.8C1221.7 1071.8 1223.3 1073.7 1225 1075.6C1226.7 1077.5 1228.3 1079.4 1230 1081.3C1231.7 1083.1 1233.3 1084.9 1235 1086.7C1236.7 1088.5 1238.3 1090.3 1240 1092C1241.7 1093.8 1243.3 1095.5 1245 1097.2C1246.7 1098.8 1248.3 1100.5 1250 1102.1C1251.7 1103.7 1253.3 1105.3 1255 1106.8C1256.7 1108.4 1258.3 1109.9 1260 1111.4C1261.7 1112.9 1263.3 1114.3 1265 1115.8C1266.7 1117.2 1268.3 1118.6 1270 1119.9C1271.7 1121.3 1273.3 1122.6 1275 1124C1276.7 1125.3 1278.3 1126.5 1280 1127.8C1281.7 1129 1283.3 1130.2 1285 1131.4C1286.7 1132.6 1288.3 1133.8 1290 1134.9C1291.7 1136 1293.3 1137.1 1295 1138.2C1296.7 1139.3 1298.3 1140.3 1300 1141.3C1301.7 1142.3 1303.3 1143.3 1305 1144.3C1306.7 1145.3 1308.3 1146.2 1310 1147.1C1311.7 1148 1313.3 1148.9 1315 1149.8C1316.7 1150.6 1318.3 1151.5 1320 1152.3C1321.7 1153.1 1323.3 1153.9 1325 1154.7C1326.7 1155.4 1328.3 1156.2 1330 1156.9C1331.7 1157.6 1333.3 1158.3 1335 1159C1336.7 1159.7 1338.3 1160.4 1340 1161C1341.7 1161.7 1343.3 1162.3 1345 1162.9C1346.7 1163.5 1348.3 1164.1 1350 1164.7C1351.7 1165.2 1353.3 1165.8 1355 1166.3C1356.7 1166.9 1358.3 1167.4 1360 1167.9C1361.7 1168.4 1363.3 1168.9 1365 1169.3C1366.7 1169.8 1368.3 1170.3 1370 1170.7C1371.7 1171.1 1373.3 1171.6 1375 1172C1376.7 1172.4 1378.3 1172.8 1380 1173.2C1381.7 1173.6 1383.3 1173.9 1385 1174.3C1386.7 1174.7 1388.3 1175 1390 1175.3C1391.7 1175.7 1393.3 1176 1395 1176.3C1396.7 1176.6 1398.3 1176.9 1400 1177.2C1401.7 1177.5 1403.3 1177.8 1405 1178.1C1406.7 1178.4 1408.3 1178.6 1410 1178.9C1411.7 1179.1 1413.3 1179.4 1415 1179.6C1416.7 1179.9 1418.3 1180.1 1420 1180.3C1421.7 1180.5 1423.3 1180.7 1425 1180.9C1426.7 1181.2 1428.3 1181.4 1430 1181.5C1431.7 1181.7 1433.3 1181.9 1435 1182.1C1436.7 1182.3 1438.3 1182.4 1440 1182.6C1441.7 1182.8 1443.3 1182.9 1445 1183.1C1446.7 1183.2 1448.3 1183.4 1450 1183.5C1451.7 1183.7 1453.3 1183.8 1455 1183.9C1456.7 1184.1 1458.3 1184.2 1460 1184.3C1461.7 1184.5 1463.3 1184.6 1465 1184.7C1466.7 1184.8 1468.3 1184.9 1470 1185C1471.7 1185.1 1473.3 1185.2 1475 1185.3C1476.7 1185.4 1478.5 1185.5 1480 1185.6C1481.5 1185.7 1483.3 1185.8 1484 1185.8" fill="none" stroke="#586bbd" stroke-width="6.4"/>
</g>
<path d="M188 1189.5H1483" stroke="#0b0b0b" stroke-width="3" fill="none"/>
<path d="M278.6 1189.5V1199.5M342.2 1189.5V1199.5M391.6 1189.5V1199.5M431.9 1189.5V1199.5M495.4 1189.5V1199.5M521.5 1189.5V1199.5M544.8 1189.5V1199.5M1207 1189.5V1199.5M1296.6 1189.5V1199.5M1360.2 1189.5V1199.5M1409.6 1189.5V1199.5M1449.9 1189.5V1199.5" stroke="#0b0b0b" stroke-width="1.6" fill="none"/>
<path d="M333.2 1189.5V1275.5M466 1189.5V1275.5" stroke="#0b0b0b" stroke-width="2.2" fill="none"/>
<rect x="186.7" y="787.8" width="1297.8" height="487.70000000000005" fill="none" stroke="#0b0b0b" stroke-width="3.3"/>
<path d="M188.4 1308.5L276.4 1308.5L276.4 1309.4C276.9 1311.7 280.4 1326.9 281.4 1332.2C282.5 1337.5 285.5 1356.7 286.5 1362.6C287.5 1368.5 290.6 1386.1 291.6 1391.4C292.6 1396.6 295.6 1411.1 296.7 1415C297.7 1418.9 300.5 1427.4 301.7 1430.2C302.9 1433.1 306.8 1440.7 308.5 1443.8C310.2 1446.8 316.3 1457.2 318.6 1460.7C321 1464.1 329.1 1475 332.2 1478.4C335.2 1481.9 345.7 1492.3 349.1 1495.3C352.4 1498.4 362.6 1506.4 366 1508.9C369.3 1511.3 379.5 1517.8 382.9 1519.9C386.3 1521.9 396.4 1527.4 399.8 1529.2C403.2 1530.9 414.3 1536.2 416.7 1537.1C419.1 1538 422.5 1538.2 423.4 1538.1C424.4 1538 425.5 1536.6 426 1535.9C426.5 1535.3 427.8 1531.7 428.2 1531.7C428.6 1531.7 429.7 1535 430.2 1535.9C430.8 1536.8 432.2 1540 433.6 1540.5C434.9 1541 442.6 1540.9 443.7 1541C444.9 1541 444.7 1541.3 445.2 1541C445.7 1540.7 448 1538.3 448.6 1538.1C449.2 1537.9 450.5 1538.2 451.1 1538.8C451.8 1539.3 454.7 1542.9 455.4 1543.5C456 1544.1 457.4 1545.4 457.9 1544.9C458.4 1544.4 460.1 1540.6 460.4 1538.4C460.8 1536.3 461 1524.9 461.3 1523.2C461.5 1521.5 462.6 1520.7 463 1521.5C463.3 1522.4 464.2 1530 464.7 1531.7C465.2 1533.4 467.4 1538.1 468 1538.4C468.6 1538.8 470.2 1537.4 470.6 1535.1C471 1532.7 471.9 1517.7 472.3 1514.8C472.6 1511.8 473.9 1505.5 474.3 1505.5C474.7 1505.5 475.6 1511.5 476 1514.8C476.4 1518.1 477.8 1535.2 478.2 1538.4C478.6 1541.7 479.8 1547.6 480.2 1547.7C480.6 1547.9 481.8 1545.1 482.1 1540.1C482.4 1535.2 483.1 1505.7 483.3 1497.9C483.4 1490 483.5 1465.5 483.8 1461.5C484 1457.6 485.2 1457.9 485.5 1458.1C485.7 1458.4 486.5 1460.1 486.6 1464.1C486.8 1468 487 1490.3 487.1 1497.9C487.3 1505.5 487.6 1535.2 487.8 1540.1C488 1545.1 488.7 1547.3 489.2 1547.7C489.6 1548.2 491.8 1545 492.6 1544.4C493.3 1543.7 496.2 1543.4 496.8 1541C497.3 1538.5 497.9 1523.3 498.1 1519.9C498.4 1516.4 499 1507.8 499.3 1506.3C499.6 1504.8 500.7 1504.1 501 1504.6C501.3 1505.1 502.4 1508.7 502.7 1511.4C503 1514.1 504 1528.6 504.4 1531.7C504.7 1534.7 505.7 1540.2 506.1 1541.8C506.5 1543.4 507.9 1546.9 508.6 1547.7C509.3 1548.6 512.2 1550.5 512.8 1550.6C513.5 1550.8 515 1550.5 515.4 1549.4C515.8 1548.4 516.7 1543.6 517.1 1540.1C517.4 1536.7 518.4 1519.2 518.8 1514.8C519.1 1510.4 520 1498.5 520.4 1496.2C520.9 1493.9 522.6 1493 523 1492C523.4 1490.9 524.1 1486.5 524.3 1486C524.6 1485.6 525.3 1486.5 525.5 1487.7C525.8 1488.9 526.4 1497.7 526.7 1497.9C527 1498 527.9 1500.2 528.1 1489.4C528.2 1478.6 528.3 1400.2 528.6 1389.7C528.8 1379.2 530 1383.9 530.3 1384.6C530.5 1385.3 531.1 1394.4 531.4 1396.4C531.7 1398.5 532.7 1401.5 533.1 1404.9C533.6 1408.3 535.2 1424.3 535.7 1430.2C536.1 1436.2 537 1456.5 537.4 1464.1C537.7 1471.7 538.7 1499.6 539 1506.3C539.4 1513.1 540.3 1528 540.7 1531.7C541.2 1535.4 542.7 1541.8 543.3 1543.5C543.9 1545.2 545.8 1547.9 546.7 1548.6C547.5 1549.3 550.7 1550.5 551.7 1550.6C552.7 1550.8 556 1550.6 556.8 1550.3C557.6 1550 559.6 1548.9 560.2 1547.7C560.8 1546.6 562.3 1541.7 562.7 1538.4C563.1 1535.2 564.1 1522.2 564.4 1514.8C564.7 1507.3 565.8 1474.2 566.1 1464.1C566.3 1453.9 566.7 1422.5 566.9 1413.3C567.2 1404.2 568 1377.2 568.3 1372.8C568.6 1368.4 569.9 1369.4 570.3 1369.4C570.7 1369.4 571.8 1370.2 572 1372.8C572.3 1375.3 572.5 1392.4 572.9 1394.7C573.2 1397.1 575 1394.6 575.4 1396.4C575.8 1398.3 576.5 1406.6 576.7 1413.3C577 1420.1 577.7 1454.9 577.9 1464.1C578.2 1473.2 578.8 1500 579.1 1504.6C579.5 1509.3 580.8 1509.4 581.3 1510.6C581.8 1511.7 583.3 1514.7 583.8 1516.5C584.4 1518.2 585.9 1525.9 586.4 1528.3C586.9 1530.7 588.4 1538.1 588.9 1540.1C589.4 1542.2 591.1 1547.5 591.5 1548.6C591.8 1549.7 592.4 1551.6 592.6 1551.1C592.9 1550.6 593.8 1545.1 594 1543.5C594.2 1541.9 594.6 1536.1 594.8 1535.1C595.1 1534.1 595.9 1532.5 596.2 1533.4C596.4 1534.2 597.1 1542.7 597.4 1543.5C597.7 1544.4 598.7 1542.3 599.1 1541.8C599.4 1541.3 600.8 1539.8 601.1 1538.4C601.4 1537.1 602.1 1531.5 602.4 1528.3C602.7 1525.1 603.8 1511.9 604.1 1506.3C604.5 1500.7 605.5 1480.1 605.8 1472.5C606.2 1464.9 607.2 1439.5 607.5 1430.2C607.8 1421 608.6 1388.8 608.9 1379.5C609.1 1370.2 609.8 1343.9 610.1 1337.3C610.3 1330.7 610.9 1316.3 611.2 1313.6C611.6 1310.9 612.8 1310.2 613.4 1309.9C614.1 1309.5 617 1309.7 617.7 1310.2C618.3 1310.8 619.7 1313.6 620.2 1315.3C620.7 1317 622.2 1324.2 622.7 1327.1C623.2 1330 624.8 1340.5 625.3 1344C625.7 1347.6 626.7 1360.1 627 1362.6C627.2 1365.2 627.5 1369.3 627.8 1369.4C628.1 1369.5 629.2 1364.5 629.5 1364C629.8 1363.5 630.9 1362.8 631.2 1364.3C631.4 1365.9 631.8 1372.9 632 1379.5C632.3 1386.1 633.4 1420.1 633.7 1430.2C634.1 1440.4 635.1 1471.7 635.4 1481C635.7 1490.3 636.8 1517.3 637.1 1523.2C637.4 1529.2 638.4 1537.8 638.8 1540.1C639.2 1542.5 640.9 1546.5 641.3 1546.9C641.8 1547.3 642.9 1544.7 643.4 1544.4C643.8 1544 645.2 1543.4 645.6 1543.5C645.9 1543.7 646.9 1546 647.2 1546.1C647.6 1546.1 648.6 1544.4 648.9 1544.4C649.3 1544.4 650.3 1545.4 650.6 1546.1C650.9 1546.7 651.4 1550.9 651.8 1551.1C652.2 1551.4 654 1549.2 654.9 1548.6C655.7 1548 659.1 1546.2 659.9 1545.2C660.8 1544.2 662.7 1540.1 663.3 1538.4C663.9 1536.8 665.3 1531.5 665.8 1528.3C666.3 1525.1 668 1511.1 668.4 1506.3C668.8 1501.6 669.7 1488.6 670.1 1481C670.4 1473.4 671.4 1440.4 671.8 1430.2C672.1 1420.1 673.1 1388 673.4 1379.5C673.8 1371.1 674.8 1351.5 675.1 1345.7C675.5 1340 676.5 1325.4 676.8 1322C677.2 1318.7 678.2 1313.1 678.5 1311.9C678.9 1310.7 679.3 1310.1 680.2 1309.9C681.1 1309.7 686.9 1309.3 687.8 1309.9C688.7 1310.4 689.2 1312.5 689.5 1315.3C689.8 1318 690.9 1331.7 691.2 1337.3C691.5 1342.8 692.6 1363.5 692.9 1371.1C693.1 1378.7 693.6 1406.6 693.7 1413.3C693.9 1420.1 694.3 1435.5 694.6 1438.7C694.8 1441.9 696 1446.3 696.3 1445.5C696.6 1444.6 697.5 1435.2 697.6 1430.2C697.8 1425.3 697.8 1400.7 698 1396.4C698.1 1392.2 698.7 1388.9 698.8 1388C698.9 1387.1 698.8 1386.3 698.9 1387.1C699 1388 699.8 1393.8 699.9 1396.4C700.1 1399.1 700.5 1406.6 700.6 1413.3C700.7 1420.1 701 1455.2 701.1 1464.1C701.2 1472.9 701.4 1499.6 701.6 1502.1C701.9 1504.6 703 1492.8 703.3 1489.4C703.7 1486 704.8 1469.1 705 1468.3C705.3 1467.4 705.7 1476.3 705.9 1481C706 1485.6 706.5 1509.4 706.7 1514.8C706.9 1520.2 707.6 1532.1 707.9 1535.1C708.2 1538 709.2 1543.5 709.6 1544.4C709.9 1545.2 710.9 1544.5 711.3 1543.5C711.7 1542.6 713.3 1536.3 713.8 1535.1C714.3 1533.9 715.9 1531.7 716.3 1531.7C716.8 1531.7 718.1 1534 718.5 1535.1C719 1536.2 720.1 1541.9 720.6 1542.7C721 1543.4 722.6 1543.1 723.1 1542.7C723.6 1542.3 725.1 1539.5 725.6 1538.4C726.2 1537.3 727.7 1534.1 728.2 1531.7C728.7 1529.3 730.4 1519 730.7 1514.8C731.1 1510.6 731.3 1493.6 731.6 1489.4C731.8 1485.2 732.7 1475.1 733.3 1472.5C733.8 1470 736 1465.8 736.6 1464.1C737.2 1462.4 738.8 1458.5 739.2 1455.6C739.6 1452.7 740.2 1437.9 740.5 1435.3C740.9 1432.8 742.6 1434.1 742.9 1430.2C743.2 1426.4 743.3 1403.2 743.4 1396.4C743.5 1389.7 743.7 1368.5 743.9 1362.6C744.1 1356.7 744.8 1341.5 745.1 1337.3C745.4 1333 746.4 1323.1 746.8 1320.4C747.1 1317.6 745.4 1310.9 748.5 1309.9C751.5 1308.8 774.1 1309.3 777.2 1309.9C780.3 1310.4 779.4 1312.9 779.7 1315.3C780.1 1317.7 780.6 1331.9 780.9 1333.9C781.3 1335.9 782.8 1333.7 783.1 1335.6C783.5 1337.4 784.2 1350.7 784.5 1352.5C784.7 1354.3 785.4 1354.3 785.7 1353.3C786 1352.3 787 1344.7 787.4 1342.3C787.7 1340 788.5 1330.9 789 1329.7C789.6 1328.4 791.9 1330.2 792.4 1329.7C793 1329.2 794.3 1325.4 794.6 1324.6C795 1323.8 795.6 1320.4 795.8 1321.7C796 1323 796.8 1331.5 797 1337.3C797.2 1343 797.8 1370.1 798 1379.5C798.2 1389 798.7 1430.2 798.9 1431.9C799 1433.6 799.5 1405.1 799.7 1396.4C799.8 1387.8 800.2 1353.3 800.4 1345.7C800.6 1338.1 801.5 1320.4 801.7 1320.4C801.9 1320.4 802.3 1341.5 802.6 1345.7C802.8 1349.9 803.8 1359.9 804.3 1362.6C804.7 1365.3 806.4 1371.9 806.8 1372.8C807.2 1373.6 808.2 1373.5 808.5 1371.1C808.8 1368.6 809.6 1349.1 809.8 1348.3C810.1 1347.4 810.7 1358.7 811 1362.6C811.3 1366.6 812.4 1382.9 812.7 1388C813.1 1393.1 814.1 1407.4 814.4 1413.3C814.7 1419.3 815.8 1440.4 816.1 1447.2C816.4 1453.9 817.5 1475.1 817.8 1481C818.1 1486.9 818.7 1502.8 819 1506.3C819.2 1509.9 820 1515.4 820.3 1516.5C820.6 1517.6 821.7 1519.2 822 1517.3C822.3 1515.5 823.1 1500.1 823.4 1497.9C823.7 1495.7 824.7 1495.2 825.1 1495.3C825.4 1495.5 826.5 1497.6 826.7 1499.6C827 1501.5 827.7 1512.7 827.9 1514.8C828.2 1516.9 828.9 1522.6 829.1 1520.7C829.4 1518.8 830.2 1496.3 830.5 1495.3C830.7 1494.4 831.4 1508.6 831.6 1511.4C831.9 1514.2 832.7 1522.4 833 1523.2C833.3 1524.1 834.4 1520.7 834.7 1519.9C835 1519 836 1515.1 836.4 1514.8C836.7 1514.4 837.7 1515.3 838.1 1516.5C838.4 1517.7 839.4 1525.4 839.8 1526.6C840.1 1527.8 841.1 1528.8 841.5 1528.3C841.8 1527.8 842.8 1523.2 843.1 1521.5C843.5 1519.9 844.5 1512.3 844.8 1511.4C845.2 1510.5 846.3 1510.2 846.5 1512.2C846.8 1514.3 847.2 1528.2 847.4 1531.7C847.5 1535.2 848 1545.3 848.2 1546.9C848.5 1548.5 849.6 1549.3 849.9 1547.7C850.2 1546.2 850.8 1536.7 851.1 1531.7C851.3 1526.7 852.1 1506.3 852.4 1497.9C852.7 1489.4 853.8 1459 854.1 1447.2C854.5 1435.3 855.5 1391.4 855.8 1379.5C856.2 1367.7 857.2 1335.8 857.5 1328.8C857.8 1321.8 857.1 1311.8 858.9 1309.9C860.6 1308 873.5 1308 875.3 1309.9C877.1 1311.8 876.7 1323.5 877 1328.8C877.2 1334.1 877.9 1354.2 878.1 1362.6C878.4 1371.1 879.3 1404.9 879.5 1413.3C879.7 1421.8 880.2 1441.2 880.3 1447.2C880.5 1453.1 880.9 1469.1 881.2 1472.5C881.4 1475.9 882.5 1480.6 882.9 1481C883.2 1481.3 884.2 1477.9 884.6 1475.9C884.9 1473.9 885.9 1464.4 886.3 1460.7C886.6 1457 887.9 1443.4 888.3 1438.7C888.7 1434 890.2 1418.1 890.5 1413.3C890.8 1408.6 891.1 1393.9 891.3 1391.4C891.5 1388.8 892.3 1387.1 892.5 1388C892.7 1388.8 893.3 1398.3 893.5 1399.8C893.8 1401.3 894.8 1403.7 895 1403.2C895.3 1402.7 896.1 1397.1 896.4 1394.7C896.7 1392.4 897.8 1383.1 898.1 1379.5C898.4 1376 899.4 1361.9 899.8 1359.2C900.2 1356.6 901.5 1352.7 901.8 1353.3C902.1 1354 902.6 1363.7 902.8 1366C903 1368.3 903.8 1376.5 904 1376.1C904.2 1375.8 904.7 1367.7 904.9 1362.6C905 1357.6 905.4 1329.7 905.7 1325.4C906 1321.2 907.8 1321.9 908.2 1320.4C908.7 1318.8 901.7 1310.9 909.9 1309.9C918.2 1308.8 982.5 1309.2 990.9 1309.9C999.2 1310.6 992.9 1315.3 993.4 1317C993.9 1318.7 995.5 1325.6 995.9 1327.1C996.4 1328.6 997.3 1332.7 997.6 1332.2C998 1331.7 999 1323.2 999.3 1322C999.7 1320.9 1000.7 1319.7 1001 1320.4C1001.3 1321 1002.4 1324.6 1002.7 1328.8C1003 1333 1003.4 1354.2 1003.5 1362.6C1003.7 1371.1 1004.2 1404.2 1004.4 1413.3C1004.6 1422.5 1005.5 1452.2 1005.7 1453.9C1006 1455.6 1006.6 1433.3 1006.9 1430.2C1007.2 1427.2 1008.3 1425 1008.6 1423.5C1008.9 1422 1009.6 1412.7 1009.8 1415C1010 1417.4 1010.2 1440.9 1010.3 1447.2C1010.4 1453.4 1010.9 1474 1011.1 1477.6C1011.4 1481.2 1012.2 1484 1012.5 1483.5C1012.8 1483 1014.1 1474.6 1014.5 1472.5C1015 1470.4 1016.6 1463.4 1017.1 1462.4C1017.5 1461.4 1018.5 1460.5 1018.8 1462.4C1019 1464.2 1019.4 1476.7 1019.6 1481C1019.8 1485.2 1020.2 1502.9 1020.4 1504.6C1020.7 1506.3 1021.8 1500.1 1022.1 1497.9C1022.5 1495.7 1023.6 1482.7 1023.8 1482.7C1024.1 1482.7 1024.4 1494.2 1024.7 1497.9C1024.9 1501.6 1026 1518.2 1026.4 1519.9C1026.7 1521.5 1027.7 1516.7 1028.1 1514.8C1028.4 1512.8 1029.4 1502.1 1029.7 1500.4C1030.1 1498.7 1031.2 1496.8 1031.4 1497.9C1031.7 1499 1032 1509.1 1032.3 1511.4C1032.5 1513.7 1033.6 1520 1034 1520.7C1034.4 1521.4 1035.7 1519.6 1036.2 1518.2C1036.6 1516.7 1037.9 1511.7 1038.2 1506.3C1038.5 1500.9 1039.3 1471.7 1039.6 1464.1C1039.8 1456.5 1040 1434.2 1040.2 1430.2C1040.4 1426.3 1041.3 1424.3 1041.6 1424.3C1041.9 1424.3 1042.6 1428 1042.9 1430.2C1043.2 1432.5 1044.3 1446.6 1044.6 1447.2C1045 1447.7 1046 1436.6 1046.3 1435.3C1046.6 1434.1 1047.3 1433.3 1047.5 1434.5C1047.7 1435.7 1048.1 1442.5 1048.3 1447.2C1048.6 1451.8 1049.4 1474.2 1049.7 1481C1049.9 1487.7 1050.6 1509.7 1050.9 1514.8C1051.2 1519.9 1052.2 1529.3 1052.6 1531.7C1052.9 1534.1 1053.9 1538.8 1054.3 1538.4C1054.6 1538.1 1055.6 1530.4 1056 1528.3C1056.3 1526.2 1057.3 1517.8 1057.6 1517.3C1058 1516.8 1059 1521.3 1059.3 1523.2C1059.6 1525.2 1060.3 1535.9 1060.5 1536.8C1060.8 1537.6 1061.6 1533.2 1061.9 1531.7C1062.1 1530.2 1062.8 1521.5 1063.1 1521.5C1063.3 1521.5 1064.1 1529.7 1064.4 1531.7C1064.7 1533.7 1065.8 1540.5 1066.1 1541.8C1066.4 1543.2 1067.4 1546.2 1067.8 1545.2C1068.1 1544.2 1069.2 1533.8 1069.5 1531.7C1069.8 1529.6 1070.4 1524.1 1070.7 1524.1C1070.9 1524.1 1071.7 1531.1 1072 1531.7C1072.3 1532.3 1073.1 1531 1073.4 1530C1073.6 1529 1074.3 1521 1074.5 1521.5C1074.8 1522 1075.5 1532.6 1075.7 1535.1C1076 1537.5 1076.8 1546.4 1077.1 1546.1C1077.4 1545.7 1078.2 1534.3 1078.4 1531.7C1078.7 1529.1 1079.4 1521.4 1079.6 1519.9C1079.9 1518.3 1080.7 1515.6 1081 1516.5C1081.2 1517.3 1081.9 1526.8 1082.2 1528.3C1082.4 1529.8 1083.2 1532.2 1083.5 1531.7C1083.8 1531.2 1084.9 1526.6 1085.2 1523.2C1085.5 1519.9 1086.1 1502.3 1086.4 1497.9C1086.6 1493.5 1087.3 1481.2 1087.6 1479.3C1087.8 1477.3 1088.7 1476.6 1088.9 1478.4C1089.1 1480.3 1089.6 1492.9 1089.8 1497.9C1090 1502.9 1090.7 1526.3 1090.9 1528.3C1091.2 1530.3 1092 1519.3 1092.3 1518.2C1092.6 1517 1093.4 1515.1 1093.7 1516.5C1093.9 1517.8 1094.6 1529.7 1094.8 1531.7C1095.1 1533.7 1095.9 1537.1 1096.2 1536.8C1096.5 1536.4 1097.4 1531.3 1097.7 1528.3C1098 1525.3 1098.8 1512.8 1099.1 1506.3C1099.3 1499.9 1100.2 1471.7 1100.4 1464.1C1100.6 1456.5 1100.9 1435.2 1101.1 1430.2C1101.2 1425.3 1101.8 1412.5 1101.9 1414.2C1102.1 1415.9 1102.6 1441.3 1102.8 1447.2C1103 1453 1103.8 1468.7 1104.1 1472.5C1104.4 1476.3 1105.5 1486 1105.8 1485.2C1106.2 1484.3 1107.2 1468.2 1107.5 1464.1C1107.8 1459.9 1108.6 1444.6 1108.9 1443.8C1109.2 1442.9 1110.2 1452.9 1110.6 1455.6C1110.9 1458.3 1111.9 1470 1112.2 1470.8C1112.6 1471.7 1113.7 1469.8 1113.9 1464.1C1114.2 1458.3 1114.9 1423.5 1115.1 1413.3C1115.3 1403.2 1115.7 1370.2 1116 1362.6C1116.2 1355 1117.1 1341 1117.3 1337.3C1117.6 1333.5 1118.2 1326.4 1118.5 1325.4C1118.8 1324.5 1119.8 1327.7 1120.2 1328C1120.6 1328.2 1122.3 1328.7 1122.7 1328C1123.2 1327.2 1124.1 1322.2 1124.4 1320.4C1124.8 1318.6 1122.5 1310.9 1126.1 1309.9C1129.7 1308.8 1157.1 1309.7 1160.8 1309.9C1164.4 1310.1 1162.1 1311.1 1162.5 1311.9C1162.8 1312.7 1163.8 1317.8 1164.2 1317.8C1164.5 1317.8 1165.5 1312.7 1165.8 1311.9C1166.2 1311.1 1167.2 1309.7 1167.5 1309.9C1167.9 1310 1168.9 1312.7 1169.2 1313.6C1169.6 1314.5 1170.6 1318.8 1170.9 1318.7C1171.3 1318.5 1172.3 1312.8 1172.6 1311.9C1172.9 1311 1174 1309.9 1174.3 1309.9C1174.6 1309.9 1175.7 1310 1176 1311.9C1176.2 1313.8 1176.6 1324.6 1176.8 1328.8C1177 1333 1177.8 1350.5 1178.2 1354.2C1178.5 1357.9 1179.8 1365.5 1180.2 1366C1180.6 1366.5 1181.9 1362.1 1182.2 1359.2C1182.6 1356.4 1183.3 1342 1183.6 1337.3C1183.9 1332.5 1184.7 1314.6 1184.9 1311.9C1185.2 1309.2 1185.9 1309.5 1186.1 1309.9C1186.4 1310.2 1187.1 1313.6 1187.3 1315.3C1187.6 1317 1188.4 1326.1 1188.7 1327.1C1189 1328.1 1190 1324.2 1190.4 1325.4C1190.7 1326.7 1191.7 1339.5 1192 1339.8C1192.4 1340.1 1193.4 1331.6 1193.7 1328.8C1194.1 1326 1195.2 1313.8 1195.4 1311.9C1195.7 1310 1196.2 1310.1 1196.3 1309.9L1484.5 1308.5L1484.5 1553.5L188.4 1553.5Z" fill="#b7c8d5" stroke="none"/>
<path d="M276.4 1309.4C276.9 1311.7 280.4 1326.9 281.4 1332.2C282.5 1337.5 285.5 1356.7 286.5 1362.6C287.5 1368.5 290.6 1386.1 291.6 1391.4C292.6 1396.6 295.6 1411.1 296.7 1415C297.7 1418.9 300.5 1427.4 301.7 1430.2C302.9 1433.1 306.8 1440.7 308.5 1443.8C310.2 1446.8 316.3 1457.2 318.6 1460.7C321 1464.1 329.1 1475 332.2 1478.4C335.2 1481.9 345.7 1492.3 349.1 1495.3C352.4 1498.4 362.6 1506.4 366 1508.9C369.3 1511.3 379.5 1517.8 382.9 1519.9C386.3 1521.9 396.4 1527.4 399.8 1529.2C403.2 1530.9 414.3 1536.2 416.7 1537.1C419.1 1538 422.5 1538.2 423.4 1538.1C424.4 1538 425.5 1536.6 426 1535.9C426.5 1535.3 427.8 1531.7 428.2 1531.7C428.6 1531.7 429.7 1535 430.2 1535.9C430.8 1536.8 432.2 1540 433.6 1540.5C434.9 1541 442.6 1540.9 443.7 1541C444.9 1541 444.7 1541.3 445.2 1541C445.7 1540.7 448 1538.3 448.6 1538.1C449.2 1537.9 450.5 1538.2 451.1 1538.8C451.8 1539.3 454.7 1542.9 455.4 1543.5C456 1544.1 457.4 1545.4 457.9 1544.9C458.4 1544.4 460.1 1540.6 460.4 1538.4C460.8 1536.3 461 1524.9 461.3 1523.2C461.5 1521.5 462.6 1520.7 463 1521.5C463.3 1522.4 464.2 1530 464.7 1531.7C465.2 1533.4 467.4 1538.1 468 1538.4C468.6 1538.8 470.2 1537.4 470.6 1535.1C471 1532.7 471.9 1517.7 472.3 1514.8C472.6 1511.8 473.9 1505.5 474.3 1505.5C474.7 1505.5 475.6 1511.5 476 1514.8C476.4 1518.1 477.8 1535.2 478.2 1538.4C478.6 1541.7 479.8 1547.6 480.2 1547.7C480.6 1547.9 481.8 1545.1 482.1 1540.1C482.4 1535.2 483.1 1505.7 483.3 1497.9C483.4 1490 483.5 1465.5 483.8 1461.5C484 1457.6 485.2 1457.9 485.5 1458.1C485.7 1458.4 486.5 1460.1 486.6 1464.1C486.8 1468 487 1490.3 487.1 1497.9C487.3 1505.5 487.6 1535.2 487.8 1540.1C488 1545.1 488.7 1547.3 489.2 1547.7C489.6 1548.2 491.8 1545 492.6 1544.4C493.3 1543.7 496.2 1543.4 496.8 1541C497.3 1538.5 497.9 1523.3 498.1 1519.9C498.4 1516.4 499 1507.8 499.3 1506.3C499.6 1504.8 500.7 1504.1 501 1504.6C501.3 1505.1 502.4 1508.7 502.7 1511.4C503 1514.1 504 1528.6 504.4 1531.7C504.7 1534.7 505.7 1540.2 506.1 1541.8C506.5 1543.4 507.9 1546.9 508.6 1547.7C509.3 1548.6 512.2 1550.5 512.8 1550.6C513.5 1550.8 515 1550.5 515.4 1549.4C515.8 1548.4 516.7 1543.6 517.1 1540.1C517.4 1536.7 518.4 1519.2 518.8 1514.8C519.1 1510.4 520 1498.5 520.4 1496.2C520.9 1493.9 522.6 1493 523 1492C523.4 1490.9 524.1 1486.5 524.3 1486C524.6 1485.6 525.3 1486.5 525.5 1487.7C525.8 1488.9 526.4 1497.7 526.7 1497.9C527 1498 527.9 1500.2 528.1 1489.4C528.2 1478.6 528.3 1400.2 528.6 1389.7C528.8 1379.2 530 1383.9 530.3 1384.6C530.5 1385.3 531.1 1394.4 531.4 1396.4C531.7 1398.5 532.7 1401.5 533.1 1404.9C533.6 1408.3 535.2 1424.3 535.7 1430.2C536.1 1436.2 537 1456.5 537.4 1464.1C537.7 1471.7 538.7 1499.6 539 1506.3C539.4 1513.1 540.3 1528 540.7 1531.7C541.2 1535.4 542.7 1541.8 543.3 1543.5C543.9 1545.2 545.8 1547.9 546.7 1548.6C547.5 1549.3 550.7 1550.5 551.7 1550.6C552.7 1550.8 556 1550.6 556.8 1550.3C557.6 1550 559.6 1548.9 560.2 1547.7C560.8 1546.6 562.3 1541.7 562.7 1538.4C563.1 1535.2 564.1 1522.2 564.4 1514.8C564.7 1507.3 565.8 1474.2 566.1 1464.1C566.3 1453.9 566.7 1422.5 566.9 1413.3C567.2 1404.2 568 1377.2 568.3 1372.8C568.6 1368.4 569.9 1369.4 570.3 1369.4C570.7 1369.4 571.8 1370.2 572 1372.8C572.3 1375.3 572.5 1392.4 572.9 1394.7C573.2 1397.1 575 1394.6 575.4 1396.4C575.8 1398.3 576.5 1406.6 576.7 1413.3C577 1420.1 577.7 1454.9 577.9 1464.1C578.2 1473.2 578.8 1500 579.1 1504.6C579.5 1509.3 580.8 1509.4 581.3 1510.6C581.8 1511.7 583.3 1514.7 583.8 1516.5C584.4 1518.2 585.9 1525.9 586.4 1528.3C586.9 1530.7 588.4 1538.1 588.9 1540.1C589.4 1542.2 591.1 1547.5 591.5 1548.6C591.8 1549.7 592.4 1551.6 592.6 1551.1C592.9 1550.6 593.8 1545.1 594 1543.5C594.2 1541.9 594.6 1536.1 594.8 1535.1C595.1 1534.1 595.9 1532.5 596.2 1533.4C596.4 1534.2 597.1 1542.7 597.4 1543.5C597.7 1544.4 598.7 1542.3 599.1 1541.8C599.4 1541.3 600.8 1539.8 601.1 1538.4C601.4 1537.1 602.1 1531.5 602.4 1528.3C602.7 1525.1 603.8 1511.9 604.1 1506.3C604.5 1500.7 605.5 1480.1 605.8 1472.5C606.2 1464.9 607.2 1439.5 607.5 1430.2C607.8 1421 608.6 1388.8 608.9 1379.5C609.1 1370.2 609.8 1343.9 610.1 1337.3C610.3 1330.7 610.9 1316.3 611.2 1313.6C611.6 1310.9 612.8 1310.2 613.4 1309.9C614.1 1309.5 617 1309.7 617.7 1310.2C618.3 1310.8 619.7 1313.6 620.2 1315.3C620.7 1317 622.2 1324.2 622.7 1327.1C623.2 1330 624.8 1340.5 625.3 1344C625.7 1347.6 626.7 1360.1 627 1362.6C627.2 1365.2 627.5 1369.3 627.8 1369.4C628.1 1369.5 629.2 1364.5 629.5 1364C629.8 1363.5 630.9 1362.8 631.2 1364.3C631.4 1365.9 631.8 1372.9 632 1379.5C632.3 1386.1 633.4 1420.1 633.7 1430.2C634.1 1440.4 635.1 1471.7 635.4 1481C635.7 1490.3 636.8 1517.3 637.1 1523.2C637.4 1529.2 638.4 1537.8 638.8 1540.1C639.2 1542.5 640.9 1546.5 641.3 1546.9C641.8 1547.3 642.9 1544.7 643.4 1544.4C643.8 1544 645.2 1543.4 645.6 1543.5C645.9 1543.7 646.9 1546 647.2 1546.1C647.6 1546.1 648.6 1544.4 648.9 1544.4C649.3 1544.4 650.3 1545.4 650.6 1546.1C650.9 1546.7 651.4 1550.9 651.8 1551.1C652.2 1551.4 654 1549.2 654.9 1548.6C655.7 1548 659.1 1546.2 659.9 1545.2C660.8 1544.2 662.7 1540.1 663.3 1538.4C663.9 1536.8 665.3 1531.5 665.8 1528.3C666.3 1525.1 668 1511.1 668.4 1506.3C668.8 1501.6 669.7 1488.6 670.1 1481C670.4 1473.4 671.4 1440.4 671.8 1430.2C672.1 1420.1 673.1 1388 673.4 1379.5C673.8 1371.1 674.8 1351.5 675.1 1345.7C675.5 1340 676.5 1325.4 676.8 1322C677.2 1318.7 678.2 1313.1 678.5 1311.9C678.9 1310.7 679.3 1310.1 680.2 1309.9C681.1 1309.7 686.9 1309.3 687.8 1309.9C688.7 1310.4 689.2 1312.5 689.5 1315.3C689.8 1318 690.9 1331.7 691.2 1337.3C691.5 1342.8 692.6 1363.5 692.9 1371.1C693.1 1378.7 693.6 1406.6 693.7 1413.3C693.9 1420.1 694.3 1435.5 694.6 1438.7C694.8 1441.9 696 1446.3 696.3 1445.5C696.6 1444.6 697.5 1435.2 697.6 1430.2C697.8 1425.3 697.8 1400.7 698 1396.4C698.1 1392.2 698.7 1388.9 698.8 1388C698.9 1387.1 698.8 1386.3 698.9 1387.1C699 1388 699.8 1393.8 699.9 1396.4C700.1 1399.1 700.5 1406.6 700.6 1413.3C700.7 1420.1 701 1455.2 701.1 1464.1C701.2 1472.9 701.4 1499.6 701.6 1502.1C701.9 1504.6 703 1492.8 703.3 1489.4C703.7 1486 704.8 1469.1 705 1468.3C705.3 1467.4 705.7 1476.3 705.9 1481C706 1485.6 706.5 1509.4 706.7 1514.8C706.9 1520.2 707.6 1532.1 707.9 1535.1C708.2 1538 709.2 1543.5 709.6 1544.4C709.9 1545.2 710.9 1544.5 711.3 1543.5C711.7 1542.6 713.3 1536.3 713.8 1535.1C714.3 1533.9 715.9 1531.7 716.3 1531.7C716.8 1531.7 718.1 1534 718.5 1535.1C719 1536.2 720.1 1541.9 720.6 1542.7C721 1543.4 722.6 1543.1 723.1 1542.7C723.6 1542.3 725.1 1539.5 725.6 1538.4C726.2 1537.3 727.7 1534.1 728.2 1531.7C728.7 1529.3 730.4 1519 730.7 1514.8C731.1 1510.6 731.3 1493.6 731.6 1489.4C731.8 1485.2 732.7 1475.1 733.3 1472.5C733.8 1470 736 1465.8 736.6 1464.1C737.2 1462.4 738.8 1458.5 739.2 1455.6C739.6 1452.7 740.2 1437.9 740.5 1435.3C740.9 1432.8 742.6 1434.1 742.9 1430.2C743.2 1426.4 743.3 1403.2 743.4 1396.4C743.5 1389.7 743.7 1368.5 743.9 1362.6C744.1 1356.7 744.8 1341.5 745.1 1337.3C745.4 1333 746.4 1323.1 746.8 1320.4C747.1 1317.6 745.4 1310.9 748.5 1309.9C751.5 1308.8 774.1 1309.3 777.2 1309.9C780.3 1310.4 779.4 1312.9 779.7 1315.3C780.1 1317.7 780.6 1331.9 780.9 1333.9C781.3 1335.9 782.8 1333.7 783.1 1335.6C783.5 1337.4 784.2 1350.7 784.5 1352.5C784.7 1354.3 785.4 1354.3 785.7 1353.3C786 1352.3 787 1344.7 787.4 1342.3C787.7 1340 788.5 1330.9 789 1329.7C789.6 1328.4 791.9 1330.2 792.4 1329.7C793 1329.2 794.3 1325.4 794.6 1324.6C795 1323.8 795.6 1320.4 795.8 1321.7C796 1323 796.8 1331.5 797 1337.3C797.2 1343 797.8 1370.1 798 1379.5C798.2 1389 798.7 1430.2 798.9 1431.9C799 1433.6 799.5 1405.1 799.7 1396.4C799.8 1387.8 800.2 1353.3 800.4 1345.7C800.6 1338.1 801.5 1320.4 801.7 1320.4C801.9 1320.4 802.3 1341.5 802.6 1345.7C802.8 1349.9 803.8 1359.9 804.3 1362.6C804.7 1365.3 806.4 1371.9 806.8 1372.8C807.2 1373.6 808.2 1373.5 808.5 1371.1C808.8 1368.6 809.6 1349.1 809.8 1348.3C810.1 1347.4 810.7 1358.7 811 1362.6C811.3 1366.6 812.4 1382.9 812.7 1388C813.1 1393.1 814.1 1407.4 814.4 1413.3C814.7 1419.3 815.8 1440.4 816.1 1447.2C816.4 1453.9 817.5 1475.1 817.8 1481C818.1 1486.9 818.7 1502.8 819 1506.3C819.2 1509.9 820 1515.4 820.3 1516.5C820.6 1517.6 821.7 1519.2 822 1517.3C822.3 1515.5 823.1 1500.1 823.4 1497.9C823.7 1495.7 824.7 1495.2 825.1 1495.3C825.4 1495.5 826.5 1497.6 826.7 1499.6C827 1501.5 827.7 1512.7 827.9 1514.8C828.2 1516.9 828.9 1522.6 829.1 1520.7C829.4 1518.8 830.2 1496.3 830.5 1495.3C830.7 1494.4 831.4 1508.6 831.6 1511.4C831.9 1514.2 832.7 1522.4 833 1523.2C833.3 1524.1 834.4 1520.7 834.7 1519.9C835 1519 836 1515.1 836.4 1514.8C836.7 1514.4 837.7 1515.3 838.1 1516.5C838.4 1517.7 839.4 1525.4 839.8 1526.6C840.1 1527.8 841.1 1528.8 841.5 1528.3C841.8 1527.8 842.8 1523.2 843.1 1521.5C843.5 1519.9 844.5 1512.3 844.8 1511.4C845.2 1510.5 846.3 1510.2 846.5 1512.2C846.8 1514.3 847.2 1528.2 847.4 1531.7C847.5 1535.2 848 1545.3 848.2 1546.9C848.5 1548.5 849.6 1549.3 849.9 1547.7C850.2 1546.2 850.8 1536.7 851.1 1531.7C851.3 1526.7 852.1 1506.3 852.4 1497.9C852.7 1489.4 853.8 1459 854.1 1447.2C854.5 1435.3 855.5 1391.4 855.8 1379.5C856.2 1367.7 857.2 1335.8 857.5 1328.8C857.8 1321.8 857.1 1311.8 858.9 1309.9C860.6 1308 873.5 1308 875.3 1309.9C877.1 1311.8 876.7 1323.5 877 1328.8C877.2 1334.1 877.9 1354.2 878.1 1362.6C878.4 1371.1 879.3 1404.9 879.5 1413.3C879.7 1421.8 880.2 1441.2 880.3 1447.2C880.5 1453.1 880.9 1469.1 881.2 1472.5C881.4 1475.9 882.5 1480.6 882.9 1481C883.2 1481.3 884.2 1477.9 884.6 1475.9C884.9 1473.9 885.9 1464.4 886.3 1460.7C886.6 1457 887.9 1443.4 888.3 1438.7C888.7 1434 890.2 1418.1 890.5 1413.3C890.8 1408.6 891.1 1393.9 891.3 1391.4C891.5 1388.8 892.3 1387.1 892.5 1388C892.7 1388.8 893.3 1398.3 893.5 1399.8C893.8 1401.3 894.8 1403.7 895 1403.2C895.3 1402.7 896.1 1397.1 896.4 1394.7C896.7 1392.4 897.8 1383.1 898.1 1379.5C898.4 1376 899.4 1361.9 899.8 1359.2C900.2 1356.6 901.5 1352.7 901.8 1353.3C902.1 1354 902.6 1363.7 902.8 1366C903 1368.3 903.8 1376.5 904 1376.1C904.2 1375.8 904.7 1367.7 904.9 1362.6C905 1357.6 905.4 1329.7 905.7 1325.4C906 1321.2 907.8 1321.9 908.2 1320.4C908.7 1318.8 901.7 1310.9 909.9 1309.9C918.2 1308.8 982.5 1309.2 990.9 1309.9C999.2 1310.6 992.9 1315.3 993.4 1317C993.9 1318.7 995.5 1325.6 995.9 1327.1C996.4 1328.6 997.3 1332.7 997.6 1332.2C998 1331.7 999 1323.2 999.3 1322C999.7 1320.9 1000.7 1319.7 1001 1320.4C1001.3 1321 1002.4 1324.6 1002.7 1328.8C1003 1333 1003.4 1354.2 1003.5 1362.6C1003.7 1371.1 1004.2 1404.2 1004.4 1413.3C1004.6 1422.5 1005.5 1452.2 1005.7 1453.9C1006 1455.6 1006.6 1433.3 1006.9 1430.2C1007.2 1427.2 1008.3 1425 1008.6 1423.5C1008.9 1422 1009.6 1412.7 1009.8 1415C1010 1417.4 1010.2 1440.9 1010.3 1447.2C1010.4 1453.4 1010.9 1474 1011.1 1477.6C1011.4 1481.2 1012.2 1484 1012.5 1483.5C1012.8 1483 1014.1 1474.6 1014.5 1472.5C1015 1470.4 1016.6 1463.4 1017.1 1462.4C1017.5 1461.4 1018.5 1460.5 1018.8 1462.4C1019 1464.2 1019.4 1476.7 1019.6 1481C1019.8 1485.2 1020.2 1502.9 1020.4 1504.6C1020.7 1506.3 1021.8 1500.1 1022.1 1497.9C1022.5 1495.7 1023.6 1482.7 1023.8 1482.7C1024.1 1482.7 1024.4 1494.2 1024.7 1497.9C1024.9 1501.6 1026 1518.2 1026.4 1519.9C1026.7 1521.5 1027.7 1516.7 1028.1 1514.8C1028.4 1512.8 1029.4 1502.1 1029.7 1500.4C1030.1 1498.7 1031.2 1496.8 1031.4 1497.9C1031.7 1499 1032 1509.1 1032.3 1511.4C1032.5 1513.7 1033.6 1520 1034 1520.7C1034.4 1521.4 1035.7 1519.6 1036.2 1518.2C1036.6 1516.7 1037.9 1511.7 1038.2 1506.3C1038.5 1500.9 1039.3 1471.7 1039.6 1464.1C1039.8 1456.5 1040 1434.2 1040.2 1430.2C1040.4 1426.3 1041.3 1424.3 1041.6 1424.3C1041.9 1424.3 1042.6 1428 1042.9 1430.2C1043.2 1432.5 1044.3 1446.6 1044.6 1447.2C1045 1447.7 1046 1436.6 1046.3 1435.3C1046.6 1434.1 1047.3 1433.3 1047.5 1434.5C1047.7 1435.7 1048.1 1442.5 1048.3 1447.2C1048.6 1451.8 1049.4 1474.2 1049.7 1481C1049.9 1487.7 1050.6 1509.7 1050.9 1514.8C1051.2 1519.9 1052.2 1529.3 1052.6 1531.7C1052.9 1534.1 1053.9 1538.8 1054.3 1538.4C1054.6 1538.1 1055.6 1530.4 1056 1528.3C1056.3 1526.2 1057.3 1517.8 1057.6 1517.3C1058 1516.8 1059 1521.3 1059.3 1523.2C1059.6 1525.2 1060.3 1535.9 1060.5 1536.8C1060.8 1537.6 1061.6 1533.2 1061.9 1531.7C1062.1 1530.2 1062.8 1521.5 1063.1 1521.5C1063.3 1521.5 1064.1 1529.7 1064.4 1531.7C1064.7 1533.7 1065.8 1540.5 1066.1 1541.8C1066.4 1543.2 1067.4 1546.2 1067.8 1545.2C1068.1 1544.2 1069.2 1533.8 1069.5 1531.7C1069.8 1529.6 1070.4 1524.1 1070.7 1524.1C1070.9 1524.1 1071.7 1531.1 1072 1531.7C1072.3 1532.3 1073.1 1531 1073.4 1530C1073.6 1529 1074.3 1521 1074.5 1521.5C1074.8 1522 1075.5 1532.6 1075.7 1535.1C1076 1537.5 1076.8 1546.4 1077.1 1546.1C1077.4 1545.7 1078.2 1534.3 1078.4 1531.7C1078.7 1529.1 1079.4 1521.4 1079.6 1519.9C1079.9 1518.3 1080.7 1515.6 1081 1516.5C1081.2 1517.3 1081.9 1526.8 1082.2 1528.3C1082.4 1529.8 1083.2 1532.2 1083.5 1531.7C1083.8 1531.2 1084.9 1526.6 1085.2 1523.2C1085.5 1519.9 1086.1 1502.3 1086.4 1497.9C1086.6 1493.5 1087.3 1481.2 1087.6 1479.3C1087.8 1477.3 1088.7 1476.6 1088.9 1478.4C1089.1 1480.3 1089.6 1492.9 1089.8 1497.9C1090 1502.9 1090.7 1526.3 1090.9 1528.3C1091.2 1530.3 1092 1519.3 1092.3 1518.2C1092.6 1517 1093.4 1515.1 1093.7 1516.5C1093.9 1517.8 1094.6 1529.7 1094.8 1531.7C1095.1 1533.7 1095.9 1537.1 1096.2 1536.8C1096.5 1536.4 1097.4 1531.3 1097.7 1528.3C1098 1525.3 1098.8 1512.8 1099.1 1506.3C1099.3 1499.9 1100.2 1471.7 1100.4 1464.1C1100.6 1456.5 1100.9 1435.2 1101.1 1430.2C1101.2 1425.3 1101.8 1412.5 1101.9 1414.2C1102.1 1415.9 1102.6 1441.3 1102.8 1447.2C1103 1453 1103.8 1468.7 1104.1 1472.5C1104.4 1476.3 1105.5 1486 1105.8 1485.2C1106.2 1484.3 1107.2 1468.2 1107.5 1464.1C1107.8 1459.9 1108.6 1444.6 1108.9 1443.8C1109.2 1442.9 1110.2 1452.9 1110.6 1455.6C1110.9 1458.3 1111.9 1470 1112.2 1470.8C1112.6 1471.7 1113.7 1469.8 1113.9 1464.1C1114.2 1458.3 1114.9 1423.5 1115.1 1413.3C1115.3 1403.2 1115.7 1370.2 1116 1362.6C1116.2 1355 1117.1 1341 1117.3 1337.3C1117.6 1333.5 1118.2 1326.4 1118.5 1325.4C1118.8 1324.5 1119.8 1327.7 1120.2 1328C1120.6 1328.2 1122.3 1328.7 1122.7 1328C1123.2 1327.2 1124.1 1322.2 1124.4 1320.4C1124.8 1318.6 1122.5 1310.9 1126.1 1309.9C1129.7 1308.8 1157.1 1309.7 1160.8 1309.9C1164.4 1310.1 1162.1 1311.1 1162.5 1311.9C1162.8 1312.7 1163.8 1317.8 1164.2 1317.8C1164.5 1317.8 1165.5 1312.7 1165.8 1311.9C1166.2 1311.1 1167.2 1309.7 1167.5 1309.9C1167.9 1310 1168.9 1312.7 1169.2 1313.6C1169.6 1314.5 1170.6 1318.8 1170.9 1318.7C1171.3 1318.5 1172.3 1312.8 1172.6 1311.9C1172.9 1311 1174 1309.9 1174.3 1309.9C1174.6 1309.9 1175.7 1310 1176 1311.9C1176.2 1313.8 1176.6 1324.6 1176.8 1328.8C1177 1333 1177.8 1350.5 1178.2 1354.2C1178.5 1357.9 1179.8 1365.5 1180.2 1366C1180.6 1366.5 1181.9 1362.1 1182.2 1359.2C1182.6 1356.4 1183.3 1342 1183.6 1337.3C1183.9 1332.5 1184.7 1314.6 1184.9 1311.9C1185.2 1309.2 1185.9 1309.5 1186.1 1309.9C1186.4 1310.2 1187.1 1313.6 1187.3 1315.3C1187.6 1317 1188.4 1326.1 1188.7 1327.1C1189 1328.1 1190 1324.2 1190.4 1325.4C1190.7 1326.7 1191.7 1339.5 1192 1339.8C1192.4 1340.1 1193.4 1331.6 1193.7 1328.8C1194.1 1326 1195.2 1313.8 1195.4 1311.9C1195.7 1310 1196.2 1310.1 1196.3 1309.9" fill="none" stroke="#0b0b0b" stroke-width="2.2" stroke-linejoin="round"/>
<rect x="1203" y="1307" width="6" height="16" fill="#0b0b0b"/>
<path d="M188.4 1308.5H1484.5" stroke="#0b0b0b" stroke-width="3" fill="none"/>
<path d="M187.8 1553.5H1486.1" stroke="#0b0b0b" stroke-width="3" fill="none"/>
<path d="M188.4 1307.0V1553.5" stroke="#0b0b0b" stroke-width="2.2" fill="none"/>
<path d="M1484.5 1307.0V1553.5" stroke="#0b0b0b" stroke-width="3.2" fill="none"/>
<path d="M189 1553.5V1564M278.6 1553.5V1564M342.2 1553.5V1564M391.6 1553.5V1564M431.9 1553.5V1564M465.9 1553.5V1564M495.4 1553.5V1564M521.5 1553.5V1564M544.8 1553.5V1564M698 1553.5V1564M787.6 1553.5V1564M851.2 1553.5V1564M900.6 1553.5V1564M940.9 1553.5V1564M974.9 1553.5V1564M1004.4 1553.5V1564M1030.5 1553.5V1564M1053.8 1553.5V1564M1207 1553.5V1564M1296.6 1553.5V1564M1360.2 1553.5V1564M1409.6 1553.5V1564M1449.9 1553.5V1564M1483.9 1553.5V1564" stroke="#0b0b0b" stroke-width="1.7" fill="none"/>
<path d="M177.8 1308.5H188.4M177.8 1369.2H188.4M177.8 1430.9H188.4M177.8 1491.3H188.4M177.8 1552.6H188.4" stroke="#0b0b0b" stroke-width="1.7" fill="none"/>
<path d="M426.9 1659.2L426.9 1658.1C427.1 1657.7 428.8 1654.6 429.3 1654.6C429.9 1654.6 430.3 1657.7 432 1658.1C433.8 1658.4 445.3 1658.4 447.1 1658.1C448.9 1657.7 449.6 1654.6 450.2 1654.6C450.9 1654.6 452.5 1657.7 453.7 1658.1C455 1658.4 461.5 1658.5 462.6 1658.1C463.8 1657.7 464.5 1653.9 465.1 1653.9C465.7 1653.9 467.7 1657.7 468.2 1658.1C468.7 1658.5 469.8 1659.1 470.3 1658.1C470.7 1657 472 1648.7 472.3 1647.3C472.7 1645.9 473.6 1644.2 474 1644.2C474.4 1644.2 475.6 1645.9 476 1647.3C476.5 1648.7 476.1 1657 478.1 1658.1C480.1 1659.1 494 1659.3 496.1 1658.1C498.2 1656.9 498.3 1647.7 498.8 1646.3C499.2 1644.9 500.2 1643.9 500.6 1644.2C501 1644.5 502.1 1648 502.7 1649.4C503.3 1650.8 504.8 1657.2 506.4 1658.1C508 1658.9 517.5 1659.3 518.8 1658.1C520.2 1656.9 519.4 1647.9 519.9 1646.3C520.3 1644.7 522.3 1642.6 523 1642.2C523.6 1641.7 525.5 1643.7 526.1 1642.2C526.6 1640.6 527.8 1629.8 528.1 1626.7C528.5 1623.6 529.3 1612.3 529.6 1611.2C529.9 1610 530.8 1614.8 531.2 1615.3C531.7 1615.8 533.5 1615.2 533.9 1616.3C534.3 1617.5 535 1624 535.4 1626.7C535.7 1629.4 536.8 1640.1 537.4 1643.2C538 1646.3 539 1656.6 541.6 1658.1C544.1 1659.6 560.8 1659.8 563.3 1658.1C565.7 1656.4 565.8 1644.9 566.4 1641.1C566.9 1637.4 568.1 1624 568.4 1620.5C568.8 1617 569.5 1607.4 569.9 1606C570.2 1604.6 571.6 1605.7 571.9 1606.4C572.3 1607.1 572.8 1612.3 573.2 1613.2C573.5 1614.1 575.2 1613.5 575.7 1615.3C576.1 1617.1 576.9 1628 577.3 1630.8C577.7 1633.6 579.1 1641.3 579.8 1643.2C580.5 1645.1 583 1647.9 583.9 1649.4C584.9 1650.9 587.5 1657.2 589.1 1658.1C590.6 1658.9 597.9 1659.6 599.4 1658.1C601 1656.6 603.7 1646.8 604.6 1643.2C605.5 1639.6 608.1 1626.9 608.7 1622.5C609.3 1618.2 610.4 1602.9 610.8 1599.8C611.2 1596.7 611.6 1592 612.9 1591.1C614.1 1590.3 621.9 1590.7 623.2 1591.1C624.4 1591.6 624.8 1594.2 625.3 1595.7C625.7 1597.2 626.8 1604.9 627.3 1606C627.8 1607.1 629.9 1605.4 630.4 1607C630.9 1608.7 632 1618.7 632.5 1622.5C633 1626.4 634.9 1641.7 635.6 1645.3C636.3 1648.8 637.1 1656.8 639.7 1658.1C642.3 1659.4 658.7 1658.9 661.4 1658.1C664.1 1657.2 665.7 1652.1 666.6 1649.4C667.5 1646.7 670 1634.9 670.7 1630.8C671.4 1626.7 673.2 1612 673.8 1608.1C674.4 1604.1 675.3 1592.8 676.9 1591.1C678.6 1589.4 688.8 1589.4 690.3 1591.1C691.9 1592.8 691.9 1603.9 692.4 1608.1C692.9 1612.2 694.8 1628.7 695.5 1632.9C696.2 1637 698.6 1646.9 699.6 1649.4C700.7 1651.9 705.5 1657.2 705.8 1658.1C706.2 1658.9 702.7 1658.2 703.1 1658.1C703.5 1658 708.9 1657.6 710.3 1657.2C711.8 1656.9 716.3 1654.6 717.6 1654.6C718.8 1654.6 721.7 1657 722.7 1657.2C723.8 1657.5 726.9 1657.6 727.9 1656.6C728.9 1655.6 732 1649.9 733.1 1647.3C734.1 1644.7 737.3 1633.3 738.2 1630.8C739.2 1628.3 741.6 1625.4 742.4 1622.5C743.1 1619.6 744.8 1605 745.5 1601.9C746.1 1598.7 745.2 1592.2 748.6 1591.1C752 1590 776.2 1590.8 779.6 1591.1C783 1591.5 781.9 1593.7 782.7 1594.6C783.4 1595.6 786 1600.7 786.8 1600.8C787.6 1600.9 790.2 1596.3 790.9 1595.7C791.7 1595 793.5 1593.6 794 1594.6C794.5 1595.7 795.7 1603.2 796.1 1606C796.5 1608.8 797.7 1620.6 798.2 1622.5C798.6 1624.5 799.9 1626.7 800.2 1625.6C800.6 1624.6 801.4 1615.3 801.7 1612.2C801.9 1609.1 802.6 1595.5 802.9 1594.6C803.2 1593.8 804 1602.5 804.4 1603.9C804.7 1605.4 805.9 1608.8 806.4 1609.1C806.9 1609.4 809 1607 809.5 1607C810 1607 811.2 1607.5 811.6 1609.1C812 1610.6 812.9 1619.5 813.2 1622.5C813.6 1625.5 814.3 1636.4 814.7 1639.1C815 1641.7 816.2 1648 816.8 1649.4C817.3 1650.8 819.2 1652.9 819.9 1653.1C820.5 1653.3 822.3 1652.1 823 1651.5C823.6 1650.8 825.5 1646.4 826.1 1646.3C826.6 1646.2 827.7 1649.9 828.1 1650.4C828.6 1650.9 830.1 1652 830.6 1651.5C831.1 1650.9 832.8 1645.5 833.3 1645.3C833.8 1645.1 834.7 1648.9 835.4 1649.4C836 1649.9 838.8 1650 839.5 1650.4C840.2 1650.8 841.9 1652.8 842.6 1653.5C843.3 1654.3 845.7 1657.2 846.7 1657.7C847.8 1658.1 851.3 1658.2 852.9 1658.3C854.6 1658.3 861.6 1658.3 863.3 1658.3C864.9 1658.2 868.2 1658.2 869.5 1657.7C870.7 1657.1 874.4 1653.4 875.7 1652.5C876.9 1651.6 881 1649.7 881.9 1648.4C882.7 1647 883.6 1640.3 883.9 1639.1C884.3 1637.8 885.1 1636.3 885.6 1636C886 1635.7 888 1636.7 888.5 1636C889 1635.2 890.1 1629.9 890.5 1628.7C891 1627.6 892.6 1625.8 893.2 1624.6C893.8 1623.4 895.8 1618.2 896.3 1616.3C896.9 1614.5 898.3 1607.1 898.8 1606C899.3 1604.9 900.9 1605.6 901.5 1605C902.1 1604.3 904 1601 904.6 1599.8C905.2 1598.6 907.2 1593.4 907.7 1592.6C908.2 1591.7 901.2 1591.3 909.8 1591.1C918.3 1591 984.6 1590.3 993 1591.1C1001.5 1592 994.2 1598.1 994.5 1599.8C994.8 1601.5 995.6 1608 995.9 1608.1C996.2 1608.2 997.2 1601.2 997.6 1600.8C998 1600.4 999.2 1604.3 999.6 1603.9C1000.1 1603.5 1001.8 1597.3 1002.1 1596.7C1002.4 1596.1 1002.3 1595.8 1002.5 1597.7C1002.7 1599.7 1003.7 1612.5 1004.1 1616.3C1004.6 1620.2 1006.7 1635.3 1007.2 1636C1007.8 1636.6 1009.4 1623.5 1009.9 1622.5C1010.4 1621.6 1011.6 1624.8 1012 1626.7C1012.4 1628.5 1013.6 1640.3 1014.1 1641.1C1014.5 1642 1016 1635.5 1016.5 1634.9C1017.1 1634.3 1019.1 1633.7 1019.6 1634.9C1020.1 1636.2 1021.2 1646.7 1021.7 1647.3C1022.2 1647.9 1024.3 1641.6 1024.8 1641.1C1025.3 1640.6 1026.5 1641.1 1026.9 1642.2C1027.3 1643.2 1028.4 1651.2 1028.9 1651.5C1029.4 1651.8 1031.5 1645.7 1032 1645.3C1032.5 1644.8 1033.6 1646.6 1034.1 1647.3C1034.6 1648.1 1036.2 1652.4 1036.8 1652.5C1037.4 1652.6 1039.7 1647.9 1040.3 1648.4C1040.9 1648.8 1042.4 1656.1 1043 1656.6C1043.6 1657.1 1045.8 1654 1046.5 1653.5C1047.2 1653 1049 1651.4 1049.6 1651.5C1050.2 1651.6 1052.1 1653.9 1052.7 1654.6C1053.3 1655.2 1055.1 1657.9 1055.8 1657.7C1056.5 1657.5 1059.1 1652.7 1059.9 1652.5C1060.8 1652.3 1063.2 1655.1 1064.1 1655.6C1064.9 1656.1 1067.4 1657.4 1068.2 1657.2C1069 1657.1 1071.6 1655 1072.3 1654.6C1073.1 1654.1 1074.8 1652.3 1075.4 1652.5C1076 1652.7 1077.9 1656.8 1078.5 1656.6C1079.1 1656.4 1081 1650.8 1081.6 1650.4C1082.2 1650 1084.2 1653 1084.7 1652.5C1085.2 1652 1086.4 1646.7 1086.8 1645.3C1087.2 1643.8 1088.5 1637.4 1088.9 1638C1089.2 1638.6 1090 1650 1090.5 1651.5C1091 1653 1093.3 1653 1094 1653.1C1094.8 1653.2 1097.5 1653.3 1098.2 1652.5C1098.8 1651.7 1099.8 1647.4 1100.2 1645.3C1100.6 1643.1 1101.9 1633.1 1102.3 1630.8C1102.6 1628.5 1103.4 1621.9 1103.7 1622.5C1104.1 1623.2 1105.1 1634.9 1105.4 1637C1105.7 1639.1 1106.7 1643.4 1107 1643.2C1107.4 1643 1108.7 1635.5 1109.1 1634.9C1109.6 1634.3 1111.1 1635.3 1111.6 1637C1112 1638.6 1113.2 1651 1113.7 1651.5C1114.1 1651.9 1115.3 1643.3 1115.7 1641.1C1116.1 1639 1117.4 1631.2 1117.8 1629.8C1118.2 1628.3 1119.5 1627.6 1119.9 1626.7C1120.2 1625.8 1121 1619.8 1121.3 1620.9C1121.6 1621.9 1122.6 1634.4 1123 1637C1123.3 1639.6 1124.6 1646.9 1125 1647.3C1125.4 1647.7 1126.7 1643.6 1127.1 1641.1C1127.5 1638.6 1128.8 1625.4 1129.2 1622.5C1129.5 1619.6 1130.5 1613 1130.8 1612.2C1131.2 1611.4 1132.3 1615 1132.7 1614.3C1133 1613.5 1134 1606.2 1134.3 1605C1134.6 1603.7 1135.5 1600.3 1135.8 1601.9C1136 1603.4 1136.7 1617.1 1137 1620.5C1137.3 1623.9 1138.5 1635.8 1138.9 1636C1139.3 1636.2 1140.5 1624.9 1140.9 1622.5C1141.4 1620.2 1142.6 1612.9 1143 1612.2C1143.4 1611.5 1144.3 1615.2 1144.7 1615.3C1145 1615.4 1145.9 1611.6 1146.3 1613.2C1146.7 1614.9 1148 1631.5 1148.4 1631.8C1148.8 1632.1 1150 1619.7 1150.4 1616.3C1150.9 1612.9 1152.1 1600.1 1152.5 1597.7C1152.9 1595.4 1154.2 1591.7 1154.6 1592.6C1154.9 1593.4 1155.7 1604 1156 1606C1156.3 1608 1157.1 1613 1157.5 1612.2C1157.8 1611.4 1159.2 1599.3 1159.5 1597.7C1159.9 1596.2 1160.8 1594.8 1161.2 1596.7C1161.6 1598.6 1162.9 1614.1 1163.3 1616.3C1163.6 1618.6 1164.4 1620.5 1164.7 1619.4C1165.1 1618.4 1166.4 1608.4 1166.8 1606C1167.1 1603.6 1168.1 1597 1168.4 1595.7C1168.8 1594.3 1170.1 1592.7 1170.5 1592.6C1170.9 1592.5 1172 1594.8 1172.6 1594.6C1173.1 1594.5 1175 1591.3 1175.7 1591.1C1176.3 1590.9 1178.2 1591.7 1178.8 1592.6C1179.3 1593.4 1180.5 1598.6 1180.8 1599.8C1181.2 1601 1182.1 1605.4 1182.5 1605C1182.8 1604.6 1184 1597 1184.3 1595.7C1184.7 1594.3 1185.5 1591.8 1186 1591.5C1186.5 1591.2 1188.5 1592.2 1189.1 1592.6C1189.7 1593 1191.6 1595.3 1192.2 1595.7C1192.8 1596.1 1194.8 1597.2 1195.3 1596.7C1195.8 1596.2 1196.2 1591.7 1197.4 1591.1C1198.5 1590.6 1205.4 1590.8 1206.7 1591.1C1207.9 1591.4 1209.2 1594 1209.8 1594C1210.3 1594 1211.6 1591.4 1211.8 1591.1L1484.0 1589.9L1484.0 1659.2Z" fill="#b7c8d5" stroke="none"/>
<path d="M426.9 1658.1C427.1 1657.7 428.8 1654.6 429.3 1654.6C429.9 1654.6 430.3 1657.7 432 1658.1C433.8 1658.4 445.3 1658.4 447.1 1658.1C448.9 1657.7 449.6 1654.6 450.2 1654.6C450.9 1654.6 452.5 1657.7 453.7 1658.1C455 1658.4 461.5 1658.5 462.6 1658.1C463.8 1657.7 464.5 1653.9 465.1 1653.9C465.7 1653.9 467.7 1657.7 468.2 1658.1C468.7 1658.5 469.8 1659.1 470.3 1658.1C470.7 1657 472 1648.7 472.3 1647.3C472.7 1645.9 473.6 1644.2 474 1644.2C474.4 1644.2 475.6 1645.9 476 1647.3C476.5 1648.7 476.1 1657 478.1 1658.1C480.1 1659.1 494 1659.3 496.1 1658.1C498.2 1656.9 498.3 1647.7 498.8 1646.3C499.2 1644.9 500.2 1643.9 500.6 1644.2C501 1644.5 502.1 1648 502.7 1649.4C503.3 1650.8 504.8 1657.2 506.4 1658.1C508 1658.9 517.5 1659.3 518.8 1658.1C520.2 1656.9 519.4 1647.9 519.9 1646.3C520.3 1644.7 522.3 1642.6 523 1642.2C523.6 1641.7 525.5 1643.7 526.1 1642.2C526.6 1640.6 527.8 1629.8 528.1 1626.7C528.5 1623.6 529.3 1612.3 529.6 1611.2C529.9 1610 530.8 1614.8 531.2 1615.3C531.7 1615.8 533.5 1615.2 533.9 1616.3C534.3 1617.5 535 1624 535.4 1626.7C535.7 1629.4 536.8 1640.1 537.4 1643.2C538 1646.3 539 1656.6 541.6 1658.1C544.1 1659.6 560.8 1659.8 563.3 1658.1C565.7 1656.4 565.8 1644.9 566.4 1641.1C566.9 1637.4 568.1 1624 568.4 1620.5C568.8 1617 569.5 1607.4 569.9 1606C570.2 1604.6 571.6 1605.7 571.9 1606.4C572.3 1607.1 572.8 1612.3 573.2 1613.2C573.5 1614.1 575.2 1613.5 575.7 1615.3C576.1 1617.1 576.9 1628 577.3 1630.8C577.7 1633.6 579.1 1641.3 579.8 1643.2C580.5 1645.1 583 1647.9 583.9 1649.4C584.9 1650.9 587.5 1657.2 589.1 1658.1C590.6 1658.9 597.9 1659.6 599.4 1658.1C601 1656.6 603.7 1646.8 604.6 1643.2C605.5 1639.6 608.1 1626.9 608.7 1622.5C609.3 1618.2 610.4 1602.9 610.8 1599.8C611.2 1596.7 611.6 1592 612.9 1591.1C614.1 1590.3 621.9 1590.7 623.2 1591.1C624.4 1591.6 624.8 1594.2 625.3 1595.7C625.7 1597.2 626.8 1604.9 627.3 1606C627.8 1607.1 629.9 1605.4 630.4 1607C630.9 1608.7 632 1618.7 632.5 1622.5C633 1626.4 634.9 1641.7 635.6 1645.3C636.3 1648.8 637.1 1656.8 639.7 1658.1C642.3 1659.4 658.7 1658.9 661.4 1658.1C664.1 1657.2 665.7 1652.1 666.6 1649.4C667.5 1646.7 670 1634.9 670.7 1630.8C671.4 1626.7 673.2 1612 673.8 1608.1C674.4 1604.1 675.3 1592.8 676.9 1591.1C678.6 1589.4 688.8 1589.4 690.3 1591.1C691.9 1592.8 691.9 1603.9 692.4 1608.1C692.9 1612.2 694.8 1628.7 695.5 1632.9C696.2 1637 698.6 1646.9 699.6 1649.4C700.7 1651.9 705.5 1657.2 705.8 1658.1C706.2 1658.9 702.7 1658.2 703.1 1658.1C703.5 1658 708.9 1657.6 710.3 1657.2C711.8 1656.9 716.3 1654.6 717.6 1654.6C718.8 1654.6 721.7 1657 722.7 1657.2C723.8 1657.5 726.9 1657.6 727.9 1656.6C728.9 1655.6 732 1649.9 733.1 1647.3C734.1 1644.7 737.3 1633.3 738.2 1630.8C739.2 1628.3 741.6 1625.4 742.4 1622.5C743.1 1619.6 744.8 1605 745.5 1601.9C746.1 1598.7 745.2 1592.2 748.6 1591.1C752 1590 776.2 1590.8 779.6 1591.1C783 1591.5 781.9 1593.7 782.7 1594.6C783.4 1595.6 786 1600.7 786.8 1600.8C787.6 1600.9 790.2 1596.3 790.9 1595.7C791.7 1595 793.5 1593.6 794 1594.6C794.5 1595.7 795.7 1603.2 796.1 1606C796.5 1608.8 797.7 1620.6 798.2 1622.5C798.6 1624.5 799.9 1626.7 800.2 1625.6C800.6 1624.6 801.4 1615.3 801.7 1612.2C801.9 1609.1 802.6 1595.5 802.9 1594.6C803.2 1593.8 804 1602.5 804.4 1603.9C804.7 1605.4 805.9 1608.8 806.4 1609.1C806.9 1609.4 809 1607 809.5 1607C810 1607 811.2 1607.5 811.6 1609.1C812 1610.6 812.9 1619.5 813.2 1622.5C813.6 1625.5 814.3 1636.4 814.7 1639.1C815 1641.7 816.2 1648 816.8 1649.4C817.3 1650.8 819.2 1652.9 819.9 1653.1C820.5 1653.3 822.3 1652.1 823 1651.5C823.6 1650.8 825.5 1646.4 826.1 1646.3C826.6 1646.2 827.7 1649.9 828.1 1650.4C828.6 1650.9 830.1 1652 830.6 1651.5C831.1 1650.9 832.8 1645.5 833.3 1645.3C833.8 1645.1 834.7 1648.9 835.4 1649.4C836 1649.9 838.8 1650 839.5 1650.4C840.2 1650.8 841.9 1652.8 842.6 1653.5C843.3 1654.3 845.7 1657.2 846.7 1657.7C847.8 1658.1 851.3 1658.2 852.9 1658.3C854.6 1658.3 861.6 1658.3 863.3 1658.3C864.9 1658.2 868.2 1658.2 869.5 1657.7C870.7 1657.1 874.4 1653.4 875.7 1652.5C876.9 1651.6 881 1649.7 881.9 1648.4C882.7 1647 883.6 1640.3 883.9 1639.1C884.3 1637.8 885.1 1636.3 885.6 1636C886 1635.7 888 1636.7 888.5 1636C889 1635.2 890.1 1629.9 890.5 1628.7C891 1627.6 892.6 1625.8 893.2 1624.6C893.8 1623.4 895.8 1618.2 896.3 1616.3C896.9 1614.5 898.3 1607.1 898.8 1606C899.3 1604.9 900.9 1605.6 901.5 1605C902.1 1604.3 904 1601 904.6 1599.8C905.2 1598.6 907.2 1593.4 907.7 1592.6C908.2 1591.7 901.2 1591.3 909.8 1591.1C918.3 1591 984.6 1590.3 993 1591.1C1001.5 1592 994.2 1598.1 994.5 1599.8C994.8 1601.5 995.6 1608 995.9 1608.1C996.2 1608.2 997.2 1601.2 997.6 1600.8C998 1600.4 999.2 1604.3 999.6 1603.9C1000.1 1603.5 1001.8 1597.3 1002.1 1596.7C1002.4 1596.1 1002.3 1595.8 1002.5 1597.7C1002.7 1599.7 1003.7 1612.5 1004.1 1616.3C1004.6 1620.2 1006.7 1635.3 1007.2 1636C1007.8 1636.6 1009.4 1623.5 1009.9 1622.5C1010.4 1621.6 1011.6 1624.8 1012 1626.7C1012.4 1628.5 1013.6 1640.3 1014.1 1641.1C1014.5 1642 1016 1635.5 1016.5 1634.9C1017.1 1634.3 1019.1 1633.7 1019.6 1634.9C1020.1 1636.2 1021.2 1646.7 1021.7 1647.3C1022.2 1647.9 1024.3 1641.6 1024.8 1641.1C1025.3 1640.6 1026.5 1641.1 1026.9 1642.2C1027.3 1643.2 1028.4 1651.2 1028.9 1651.5C1029.4 1651.8 1031.5 1645.7 1032 1645.3C1032.5 1644.8 1033.6 1646.6 1034.1 1647.3C1034.6 1648.1 1036.2 1652.4 1036.8 1652.5C1037.4 1652.6 1039.7 1647.9 1040.3 1648.4C1040.9 1648.8 1042.4 1656.1 1043 1656.6C1043.6 1657.1 1045.8 1654 1046.5 1653.5C1047.2 1653 1049 1651.4 1049.6 1651.5C1050.2 1651.6 1052.1 1653.9 1052.7 1654.6C1053.3 1655.2 1055.1 1657.9 1055.8 1657.7C1056.5 1657.5 1059.1 1652.7 1059.9 1652.5C1060.8 1652.3 1063.2 1655.1 1064.1 1655.6C1064.9 1656.1 1067.4 1657.4 1068.2 1657.2C1069 1657.1 1071.6 1655 1072.3 1654.6C1073.1 1654.1 1074.8 1652.3 1075.4 1652.5C1076 1652.7 1077.9 1656.8 1078.5 1656.6C1079.1 1656.4 1081 1650.8 1081.6 1650.4C1082.2 1650 1084.2 1653 1084.7 1652.5C1085.2 1652 1086.4 1646.7 1086.8 1645.3C1087.2 1643.8 1088.5 1637.4 1088.9 1638C1089.2 1638.6 1090 1650 1090.5 1651.5C1091 1653 1093.3 1653 1094 1653.1C1094.8 1653.2 1097.5 1653.3 1098.2 1652.5C1098.8 1651.7 1099.8 1647.4 1100.2 1645.3C1100.6 1643.1 1101.9 1633.1 1102.3 1630.8C1102.6 1628.5 1103.4 1621.9 1103.7 1622.5C1104.1 1623.2 1105.1 1634.9 1105.4 1637C1105.7 1639.1 1106.7 1643.4 1107 1643.2C1107.4 1643 1108.7 1635.5 1109.1 1634.9C1109.6 1634.3 1111.1 1635.3 1111.6 1637C1112 1638.6 1113.2 1651 1113.7 1651.5C1114.1 1651.9 1115.3 1643.3 1115.7 1641.1C1116.1 1639 1117.4 1631.2 1117.8 1629.8C1118.2 1628.3 1119.5 1627.6 1119.9 1626.7C1120.2 1625.8 1121 1619.8 1121.3 1620.9C1121.6 1621.9 1122.6 1634.4 1123 1637C1123.3 1639.6 1124.6 1646.9 1125 1647.3C1125.4 1647.7 1126.7 1643.6 1127.1 1641.1C1127.5 1638.6 1128.8 1625.4 1129.2 1622.5C1129.5 1619.6 1130.5 1613 1130.8 1612.2C1131.2 1611.4 1132.3 1615 1132.7 1614.3C1133 1613.5 1134 1606.2 1134.3 1605C1134.6 1603.7 1135.5 1600.3 1135.8 1601.9C1136 1603.4 1136.7 1617.1 1137 1620.5C1137.3 1623.9 1138.5 1635.8 1138.9 1636C1139.3 1636.2 1140.5 1624.9 1140.9 1622.5C1141.4 1620.2 1142.6 1612.9 1143 1612.2C1143.4 1611.5 1144.3 1615.2 1144.7 1615.3C1145 1615.4 1145.9 1611.6 1146.3 1613.2C1146.7 1614.9 1148 1631.5 1148.4 1631.8C1148.8 1632.1 1150 1619.7 1150.4 1616.3C1150.9 1612.9 1152.1 1600.1 1152.5 1597.7C1152.9 1595.4 1154.2 1591.7 1154.6 1592.6C1154.9 1593.4 1155.7 1604 1156 1606C1156.3 1608 1157.1 1613 1157.5 1612.2C1157.8 1611.4 1159.2 1599.3 1159.5 1597.7C1159.9 1596.2 1160.8 1594.8 1161.2 1596.7C1161.6 1598.6 1162.9 1614.1 1163.3 1616.3C1163.6 1618.6 1164.4 1620.5 1164.7 1619.4C1165.1 1618.4 1166.4 1608.4 1166.8 1606C1167.1 1603.6 1168.1 1597 1168.4 1595.7C1168.8 1594.3 1170.1 1592.7 1170.5 1592.6C1170.9 1592.5 1172 1594.8 1172.6 1594.6C1173.1 1594.5 1175 1591.3 1175.7 1591.1C1176.3 1590.9 1178.2 1591.7 1178.8 1592.6C1179.3 1593.4 1180.5 1598.6 1180.8 1599.8C1181.2 1601 1182.1 1605.4 1182.5 1605C1182.8 1604.6 1184 1597 1184.3 1595.7C1184.7 1594.3 1185.5 1591.8 1186 1591.5C1186.5 1591.2 1188.5 1592.2 1189.1 1592.6C1189.7 1593 1191.6 1595.3 1192.2 1595.7C1192.8 1596.1 1194.8 1597.2 1195.3 1596.7C1195.8 1596.2 1196.2 1591.7 1197.4 1591.1C1198.5 1590.6 1205.4 1590.8 1206.7 1591.1C1207.9 1591.4 1209.2 1594 1209.8 1594C1210.3 1594 1211.6 1591.4 1211.8 1591.1" fill="none" stroke="#0b0b0b" stroke-width="2" stroke-linejoin="round"/>
<path d="M1331.8 1611V1641" stroke="#9fb1be" stroke-width="0.8" fill="none"/>
<path d="M621.7 1736C622 1735.5 624.1 1730.4 624.8 1730.4C625.5 1730.4 628.5 1735.5 628.9 1736" fill="#b7c8d5" stroke="#0b0b0b" stroke-width="1.9" stroke-linejoin="round"/>
<path d="M644.4 1736C644.7 1735.7 646.9 1733.1 647.5 1733.1C648.2 1733.1 650.3 1735.7 650.6 1736" fill="#b7c8d5" stroke="#0b0b0b" stroke-width="1.9" stroke-linejoin="round"/>
<path d="M690.5 1736C690.7 1734.5 691.7 1723.3 692 1721.1C692.3 1718.9 693.1 1713.7 693.4 1713.9C693.7 1714.1 694.7 1722 695.1 1723.2C695.4 1724.4 696.4 1727.9 696.7 1726.3C697 1724.6 697.9 1710 698.2 1706.7C698.5 1703.4 699.3 1693.2 699.6 1693.2C699.9 1693.2 701 1703.4 701.3 1706.7C701.5 1710 702 1724.6 702.3 1726.3C702.5 1727.9 703.4 1724.3 703.7 1723.2C704.1 1722.1 705.1 1715.3 705.4 1715.3C705.7 1715.3 706.7 1721.1 707 1723.2C707.4 1725.3 708.3 1734.7 708.5 1736" fill="#b7c8d5" stroke="#0b0b0b" stroke-width="1.9" stroke-linejoin="round"/>
<path d="M758.1 1736C758.3 1734.7 759.8 1727.2 760.2 1723.2C760.5 1719.2 761.3 1701.1 761.6 1696.3C761.9 1691.6 762.9 1678.5 763.3 1675.7C763.6 1672.8 764.5 1668.3 764.7 1667.8C764.9 1667.3 765 1669.7 765.3 1670.5C765.6 1671.3 767.3 1675.7 767.8 1675.7C768.3 1675.7 770.1 1671.3 770.5 1670.5C770.9 1669.7 771.2 1667.3 771.5 1667.8C771.8 1668.3 773.2 1672.8 773.6 1675.7C774 1678.5 774.9 1691.6 775.2 1696.3C775.6 1701.1 776.2 1719.2 776.7 1723.2C777.1 1727.2 779.5 1734.7 779.8 1736" fill="#b7c8d5" stroke="#0b0b0b" stroke-width="1.9" stroke-linejoin="round"/>
<path d="M852.1 1736C852.4 1734.1 854.1 1722 854.6 1717C855.1 1712 856.3 1690.9 856.7 1686C857 1681.1 856.6 1669.6 858.3 1667.8C860 1666 872.1 1666 873.8 1667.8C875.5 1669.6 875 1681.5 875.3 1686C875.6 1690.5 876.5 1708.7 876.9 1712.9C877.3 1717 878.4 1725 879 1727.3C879.6 1729.6 882.7 1735.1 883.1 1736" fill="#b7c8d5" stroke="#0b0b0b" stroke-width="1.9" stroke-linejoin="round"/>
<path d="M886.2 1736C886.5 1734.7 888.8 1725.2 889.3 1723.2C889.9 1721.2 891.3 1716.7 891.8 1716C892.3 1715.2 894.1 1714.6 894.5 1715.3C894.9 1716.1 895.6 1721.1 895.9 1723.2C896.2 1725.3 897.4 1734.7 897.6 1736" fill="#b7c8d5" stroke="#0b0b0b" stroke-width="1.9" stroke-linejoin="round"/>
<path d="M904.8 1736C905.1 1735.5 907.4 1731.1 907.9 1730.4C908.4 1729.7 909.6 1728.9 910 1729C910.4 1729.1 911.6 1730.8 912 1731.5C912.5 1732.2 913.9 1735.6 914.1 1736" fill="#b7c8d5" stroke="#0b0b0b" stroke-width="1.9" stroke-linejoin="round"/>
<path d="M1034.3 1736C1034.6 1735.6 1036.8 1732 1037.4 1731.9C1038 1731.7 1039.9 1734.4 1040.5 1734.6C1041.1 1734.7 1042.9 1733 1043.6 1733.1C1044.3 1733.3 1047.3 1735.7 1047.8 1736" fill="#b7c8d5" stroke="#0b0b0b" stroke-width="1.9" stroke-linejoin="round"/>
<path d="M1058.1 1736C1058.2 1735.9 1058.4 1734.7 1059.1 1734.6C1059.8 1734.4 1064.4 1734 1065.3 1734.1C1066.3 1734.3 1068.1 1735.8 1068.4 1736" fill="#b7c8d5" stroke="#0b0b0b" stroke-width="1.9" stroke-linejoin="round"/>
<path d="M1099.4 1736C1099.7 1735.3 1101.6 1730.3 1102.1 1729.4C1102.6 1728.5 1103.7 1727.2 1104.2 1727.3C1104.6 1727.4 1106.1 1730.4 1106.7 1730.4C1107.2 1730.4 1109.1 1728.7 1109.8 1727.3C1110.4 1726 1112.2 1720.1 1112.9 1717C1113.5 1713.9 1115.3 1700.3 1116 1696.3C1116.6 1692.4 1118.3 1680.2 1119.1 1677.7C1119.8 1675.3 1122.4 1672.5 1123.2 1671.5C1124 1670.5 1123.6 1668.2 1127.3 1667.8C1131.1 1667.4 1157.1 1667.2 1160.8 1667.8C1164.5 1668.4 1163.8 1672.4 1164.5 1673.6C1165.3 1674.8 1167.6 1677.5 1168.2 1679.8C1168.9 1682.1 1170.2 1692.8 1170.7 1696.3C1171.3 1699.8 1173.1 1711.8 1173.8 1714.9C1174.5 1718 1177.2 1725.5 1177.9 1727.3C1178.7 1729.1 1180.8 1732.7 1181.5 1733.1C1182.1 1733.5 1183.6 1731.8 1184.1 1731.5C1184.7 1731.1 1186.4 1728.9 1186.8 1729.4C1187.3 1729.9 1188.5 1735.3 1188.7 1736" fill="#b7c8d5" stroke="#0b0b0b" stroke-width="1.9" stroke-linejoin="round"/>
<path d="M189.3 1747C198.2 1747 269.6 1746.6 278.8 1747C288 1747.3 280.8 1749.2 281.3 1750.5C281.7 1751.8 282.9 1757.2 283.3 1759.8C283.7 1762.4 285 1773.4 285.4 1776.3C285.8 1779.2 286.9 1786.3 287.5 1788.7C288 1791.2 289.8 1799.1 290.6 1801.1C291.3 1803.2 293.8 1808.2 294.7 1809.4C295.6 1810.6 298.6 1812.6 299.9 1813.1C301.1 1813.6 318.1 1814.4 307.1 1814.6C296 1814.7 201.1 1814.6 189.3 1814.6" fill="#b7c8d5" stroke="#0b0b0b" stroke-width="1.9" stroke-linejoin="round"/>
<path d="M457.9 1813.9C458.2 1813.3 460.1 1808.4 460.6 1807.7C461.2 1807.1 462.6 1807.1 463.1 1807.7C463.7 1808.4 465.9 1813.3 466.2 1813.9" fill="#b7c8d5" stroke="#0b0b0b" stroke-width="1.9" stroke-linejoin="round"/>
<path d="M480.7 1813.9C480.9 1812.2 482.4 1799.8 482.7 1797C483.1 1794.2 483.5 1786.8 483.8 1785.6C484.1 1784.5 485.5 1784.3 485.8 1785.6C486.2 1787 487.2 1796.2 487.5 1799.1C487.9 1801.9 489.2 1812.5 489.4 1813.9" fill="#b7c8d5" stroke="#0b0b0b" stroke-width="1.9" stroke-linejoin="round"/>
<path d="M590.9 1813.9C591.2 1813.4 593.5 1809.6 594 1809C594.5 1808.4 595.7 1807.7 596.1 1807.7C596.5 1807.7 597.6 1808.4 598.2 1809C598.7 1809.6 601 1813.4 601.3 1813.9" fill="#b7c8d5" stroke="#0b0b0b" stroke-width="1.9" stroke-linejoin="round"/>
<path d="M885.8 1813.9C886 1813.3 887.9 1808.2 888.3 1807.3C888.7 1806.5 889.6 1805.6 889.9 1805.7C890.3 1805.7 891.5 1806.9 892 1807.7C892.5 1808.6 894.8 1813.3 895.1 1813.9" fill="#b7c8d5" stroke="#0b0b0b" stroke-width="1.9" stroke-linejoin="round"/>
<path d="M1037.7 1813.9C1037.9 1812.7 1039.4 1803.9 1039.8 1801.1C1040.1 1798.4 1040.8 1788.6 1041.2 1786.7C1041.6 1784.8 1043.3 1782.1 1043.9 1782.1C1044.4 1782.1 1046.1 1785.2 1046.6 1786.7C1047.1 1788.2 1048.4 1794.9 1049.1 1797C1049.7 1799.1 1052.3 1805.6 1053.2 1807.3C1054.1 1809 1057.8 1813.3 1058.4 1813.9" fill="#b7c8d5" stroke="#0b0b0b" stroke-width="1.9" stroke-linejoin="round"/>
<path d="M723.8 1889.4C724.2 1889.1 727.1 1886.7 727.9 1886.3C728.7 1885.9 730.7 1885.3 731.4 1885.3C732.1 1885.3 734.3 1885.9 735.1 1886.3C735.9 1886.7 738.9 1889.1 739.3 1889.4" fill="#b7c8d5" stroke="#0b0b0b" stroke-width="1.9" stroke-linejoin="round"/>
<path d="M799.2 1889.4C799.4 1888.6 801.2 1882.2 801.7 1881.1C802.1 1880.1 803.4 1878.9 803.7 1879.1C804.1 1879.3 805 1883.4 805.4 1883.2C805.8 1883 807.1 1878.6 807.5 1877C807.8 1875.3 808.8 1867.9 809.1 1866.7C809.5 1865.4 810.6 1863.2 811 1864.2C811.3 1865.2 812.3 1875.3 812.6 1877C813 1878.7 814.2 1881 814.7 1881.1C815.2 1881.2 817.3 1878 817.8 1878C818.3 1878 819.3 1880.4 819.9 1881.1C820.4 1881.9 822.2 1884.4 823 1885.3C823.7 1886.1 826.7 1889 827.1 1889.4" fill="#b7c8d5" stroke="#0b0b0b" stroke-width="1.9" stroke-linejoin="round"/>
<path d="M983.1 1889.4C983.3 1888.2 984.8 1879.1 985.2 1877C985.6 1874.9 986.8 1869.1 987.2 1868.3C987.7 1867.5 988.9 1868 989.3 1868.7C989.7 1869.5 990.6 1876.4 991 1876C991.3 1875.5 992.7 1867 993 1864.6C993.4 1862.2 994.1 1853.6 994.5 1852.2C994.8 1850.8 996.2 1849.5 996.5 1850.5C996.9 1851.6 997.7 1860.1 998 1862.5C998.3 1865 999.2 1874.1 999.6 1874.9C1000.1 1875.8 1001.7 1870.9 1002.1 1870.8C1002.6 1870.7 1003.7 1872.7 1004.2 1873.9C1004.7 1875.1 1006.3 1881.6 1006.9 1883.2C1007.5 1884.7 1009.7 1888.8 1010 1889.4" fill="#b7c8d5" stroke="#0b0b0b" stroke-width="1.9" stroke-linejoin="round"/>
<path d="M774.5 1966.5C774.7 1965.8 776.1 1961.1 776.5 1960.3C776.9 1959.4 778.2 1958.2 778.6 1958.2C779 1958.2 780.3 1959.4 780.7 1960.3C781 1961.1 782.2 1965.8 782.3 1966.5" fill="#b7c8d5" stroke="#0b0b0b" stroke-width="1.9" stroke-linejoin="round"/>
<path d="M841 1966.5C841.2 1966.1 842.3 1963.2 842.7 1962.7C843 1962.3 844.3 1961.9 844.7 1961.9C845.1 1961.9 846.4 1962.3 846.8 1962.7C847.2 1963.2 848.3 1966.1 848.4 1966.5" fill="#b7c8d5" stroke="#0b0b0b" stroke-width="1.9" stroke-linejoin="round"/>
<path d="M872.6 1966.5C872.8 1964 873.8 1946.8 874.1 1941.7C874.4 1936.5 875.4 1918.1 875.7 1914.8C876.1 1911.5 877 1908.4 877.4 1908.2C877.8 1908 879.1 1910.4 879.4 1912.7C879.8 1915 880.6 1927.4 880.9 1931.3C881.2 1935.3 881.9 1948.5 882.3 1952C882.8 1955.5 884.8 1965 885 1966.5" fill="#b7c8d5" stroke="#0b0b0b" stroke-width="1.9" stroke-linejoin="round"/>
<path d="M990.4 1966.5C990.6 1965.4 992.1 1958.6 992.5 1956.1C992.8 1953.6 993.6 1944 993.9 1941.7C994.2 1939.3 995.2 1933.1 995.6 1932.4C996 1931.6 997.3 1933.7 997.7 1934.4C998 1935.2 998.4 1939.2 998.7 1939.6C999 1939.9 1000.3 1937.7 1000.8 1937.9C1001.2 1938.2 1002.5 1940.1 1002.8 1941.7C1003.2 1943.3 1003.7 1951.6 1004.3 1954.1C1004.8 1956.5 1007.6 1965.2 1008 1966.5" fill="#b7c8d5" stroke="#0b0b0b" stroke-width="1.9" stroke-linejoin="round"/>
<path d="M1158.9 1967.2C1159.5 1967 1164.5 1965.7 1165.6 1965.3C1166.7 1964.8 1169.1 1964 1169.6 1962.8C1170.2 1961.5 1170.6 1953.8 1170.9 1952.8C1171.1 1951.8 1171.9 1951.8 1172.1 1952.8C1172.4 1953.8 1172.6 1961.5 1173.1 1962.8C1173.7 1964.1 1176.7 1965.4 1177.6 1965.8C1178.6 1966.2 1182.2 1967.1 1182.7 1967.2" fill="#b7c8d5" stroke="#0b0b0b" stroke-width="1.9" stroke-linejoin="round"/>
<path d="M1023.2 1814.4 L1025.3 1811.5 L1028.4 1810.6 L1033.6 1811.5 L1037.7 1814.4Z" fill="#0b0b0b" stroke="#0b0b0b" stroke-width="1.2"/>
<path d="M1115.2 1814.4 L1119.3 1811.5 L1124.5 1811.9 L1127.6 1813.1 L1135.8 1810.4 L1144.1 1811 L1150.3 1814.4Z" fill="#0b0b0b" stroke="#0b0b0b" stroke-width="1.2"/>
<path d="M221.3 1979.1C223.4 1979.6 229.3 1980.8 233.7 1982.6C238.2 1984.4 243.4 1987.2 248.2 1989.8C253 1992.4 257.8 1995.3 262.7 1998.1C267.5 2000.8 272.3 2003.7 277.1 2006.3C281.9 2008.9 286.4 2011.1 291.6 2013.6C296.8 2016 302.6 2018.9 308.1 2021.2C313.6 2023.6 319.1 2025.7 324.7 2027.6C330.2 2029.5 335.7 2031.3 341.2 2032.8C346.7 2034.3 352.2 2035.5 357.7 2036.7C363.2 2037.9 368.7 2038.9 374.3 2039.8C379.8 2040.7 385.3 2041.3 390.8 2041.9C396.3 2042.5 401.8 2042.9 407.3 2043.3C412.8 2043.7 417.7 2043.9 423.9 2044.1C430.1 2044.4 441.1 2044.7 444.5 2044.8L444.5 2046.0L189.9 2046.0L189.9 1978.4Z" fill="#b7c8d5" stroke="none"/>
<path d="M221.3 1979.1C223.4 1979.6 229.3 1980.8 233.7 1982.6C238.2 1984.4 243.4 1987.2 248.2 1989.8C253 1992.4 257.8 1995.3 262.7 1998.1C267.5 2000.8 272.3 2003.7 277.1 2006.3C281.9 2008.9 286.4 2011.1 291.6 2013.6C296.8 2016 302.6 2018.9 308.1 2021.2C313.6 2023.6 319.1 2025.7 324.7 2027.6C330.2 2029.5 335.7 2031.3 341.2 2032.8C346.7 2034.3 352.2 2035.5 357.7 2036.7C363.2 2037.9 368.7 2038.9 374.3 2039.8C379.8 2040.7 385.3 2041.3 390.8 2041.9C396.3 2042.5 401.8 2042.9 407.3 2043.3C412.8 2043.7 417.7 2043.9 423.9 2044.1C430.1 2044.4 441.1 2044.7 444.5 2044.8" fill="none" stroke="#0b0b0b" stroke-width="1.8"/>
<rect x="189.9" y="1589.9" width="1294.1" height="69.3" fill="none" stroke="#0b0b0b" stroke-width="3.4"/>
<rect x="189.9" y="1667.0" width="1294.1" height="69.8" fill="none" stroke="#0b0b0b" stroke-width="3.4"/>
<rect x="189.9" y="1745.5" width="1294.1" height="70.1" fill="none" stroke="#0b0b0b" stroke-width="3.4"/>
<rect x="189.9" y="1823.2" width="1294.1" height="67.1" fill="none" stroke="#0b0b0b" stroke-width="3.4"/>
<rect x="189.9" y="1899.5" width="1294.1" height="67.7" fill="none" stroke="#0b0b0b" stroke-width="3.4"/>
<rect x="189.9" y="1978.4" width="1294.1" height="67.6" fill="none" stroke="#0b0b0b" stroke-width="3.4"/>
<path d="M189 2046.0V2057.3M278.6 2046.0V2057.3M342.2 2046.0V2057.3M391.6 2046.0V2057.3M431.9 2046.0V2057.3M465.9 2046.0V2057.3M495.4 2046.0V2057.3M521.5 2046.0V2057.3M544.8 2046.0V2057.3M698 2046.0V2057.3M787.6 2046.0V2057.3M851.2 2046.0V2057.3M900.6 2046.0V2057.3M940.9 2046.0V2057.3M974.9 2046.0V2057.3M1004.4 2046.0V2057.3M1030.5 2046.0V2057.3M1053.8 2046.0V2057.3M1207 2046.0V2057.3M1296.6 2046.0V2057.3M1360.2 2046.0V2057.3M1409.6 2046.0V2057.3M1449.9 2046.0V2057.3M1483.9 2046.0V2057.3" stroke="#0b0b0b" stroke-width="1.7" fill="none"/>
<g font-family="'Liberation Serif','DejaVu Serif',serif" fill="#0b0b0b">
<text x="293.2" y="834.1" font-size="34.5" font-style="italic" letter-spacing="0.9" textLength="333.5" lengthAdjust="spacingAndGlyphs">Солнечное излучение,</text>
<text x="203" y="864" font-size="34.5" font-style="italic" letter-spacing="0.9" textLength="519.5" lengthAdjust="spacingAndGlyphs">достигающее поверхности Земли</text>
<text x="288" y="894" font-size="34.5" font-style="italic" letter-spacing="0.9" textLength="345" lengthAdjust="spacingAndGlyphs"><tspan font-style="normal">(</tspan>пропускание <tspan font-style="normal">70–75%)</tspan></text>
<text x="997.2" y="838.9" font-size="34.5" font-style="italic" letter-spacing="0.9" textLength="449" lengthAdjust="spacingAndGlyphs">Уходящее в космос тепловое</text>
<text x="965.4" y="869.9" font-size="34.5" font-style="italic" letter-spacing="0.9" textLength="514.2" lengthAdjust="spacingAndGlyphs">излучение <tspan font-style="normal">(</tspan>пропускание <tspan font-style="normal">15–30%)</tspan></text>
<text x="220.8" y="1246.7" font-size="34.5" font-style="italic" letter-spacing="0.9" textLength="62" lengthAdjust="spacingAndGlyphs" style="letter-spacing:2.5px">УФ</text>
<text x="337.1" y="1228.5" font-size="34.5" font-style="italic" letter-spacing="0.9" textLength="126" lengthAdjust="spacingAndGlyphs">Видимая</text>
<text x="340.6" y="1258" font-size="34.5" font-style="italic" letter-spacing="0.9" textLength="117.2" lengthAdjust="spacingAndGlyphs">область</text>
<text x="1029.6" y="1246.1" font-size="34.5" font-style="italic" letter-spacing="0.9" textLength="54.5" lengthAdjust="spacingAndGlyphs" style="letter-spacing:2.5px">ИК</text>
<text x="1123" y="1401" font-size="34.5" font-style="italic" letter-spacing="0.9" textLength="353.5" lengthAdjust="spacingAndGlyphs">Суммарное поглощение</text>
<text x="1209.9" y="1431.4" font-size="34.5" font-style="italic" letter-spacing="0.9" textLength="179" lengthAdjust="spacingAndGlyphs">и рассеяние</text>
<text x="1117" y="2022.9" font-size="34.5" font-style="italic" letter-spacing="0.9" textLength="337" lengthAdjust="spacingAndGlyphs">Рассеянное излучение</text>
<text x="285.4" y="1035.4" font-size="34" text-anchor="middle" textLength="103" lengthAdjust="spacingAndGlyphs" transform="rotate(-61 285.4 1035.4)">5525 <tspan font-style="italic">К</tspan></text>
<text x="931.5" y="1018.3" font-size="34" text-anchor="middle" textLength="160" lengthAdjust="spacingAndGlyphs" transform="rotate(-58 931.5 1018.3)">210–310 <tspan font-style="italic">К</tspan></text>
<text x="164" y="1120.8" font-size="34.2" textLength="226" lengthAdjust="spacingAndGlyphs" transform="rotate(-90 164 1120.8)">Интенсивность</text>
<text x="120.3" y="1476.8" font-size="34.2" textLength="129" lengthAdjust="spacingAndGlyphs" transform="rotate(-90 120.3 1476.8)">Процент</text>
<text x="140.5" y="1968.6" font-size="34.2" textLength="339.5" lengthAdjust="spacingAndGlyphs" transform="rotate(-90 140.5 1968.6)">Основные компоненты</text>
<text x="171.1" y="1884" font-size="34.2" textLength="163.5" lengthAdjust="spacingAndGlyphs" transform="rotate(-90 171.1 1884)">атмосферы</text>
<text x="173.2" y="1319.9" font-size="33.6" text-anchor="end">100</text>
<text x="173.2" y="1380.6" font-size="33.6" text-anchor="end">75</text>
<text x="173.2" y="1441.4" font-size="33.6" text-anchor="end">50</text>
<text x="173.2" y="1502.1" font-size="33.6" text-anchor="end">25</text>
<text x="173.2" y="1564" font-size="33.6" text-anchor="end">0</text>
<text x="166.6" y="2091.6" font-size="33.6" textLength="47" lengthAdjust="spacingAndGlyphs">0,2</text>
<text x="545" y="2091.6" font-size="33.6" text-anchor="middle">1</text>
<text x="1053.2" y="2091.6" font-size="33.6" text-anchor="middle">10</text>
<text x="1483.3" y="2091.6" font-size="33.6" text-anchor="middle">70</text>
<text x="684" y="2127.7" font-size="34.2" textLength="284" lengthAdjust="spacingAndGlyphs">Длина волны, мкм</text>
<text x="1382.5" y="1633.9" font-size="34" textLength="66.5" lengthAdjust="spacingAndGlyphs">H<tspan font-size="19" dy="8.6">2</tspan><tspan dy="-8.6">O</tspan></text>
<text x="1384.6" y="1714.8" font-size="34" textLength="64.5" lengthAdjust="spacingAndGlyphs">CO<tspan font-size="19" dy="8.6">2</tspan></text>
<text x="1357.5" y="1789.7" font-size="34" textLength="91.5" lengthAdjust="spacingAndGlyphs">O<tspan font-size="19" dy="8.6">2</tspan><tspan dy="-8.6">,</tspan>O<tspan font-size="19" dy="8.6">3</tspan></text>
<text x="1383.5" y="1868.9" font-size="34" textLength="65.5" lengthAdjust="spacingAndGlyphs">CH<tspan font-size="19" dy="8.6">4</tspan></text>
<text x="1321.5" y="1946.5" font-size="34" textLength="128.5" lengthAdjust="spacingAndGlyphs">NO,NO<tspan font-size="19" dy="8.6">2</tspan></text>
</g>
<g font-family="'Liberation Sans','DejaVu Sans',sans-serif" font-style="italic" font-size="32" fill="#161616" word-spacing="9">
<text x="56.6" y="2193" textLength="1491" lengthAdjust="spacingAndGlyphs">Спектры отраженного атмосферой и поглощенного земной поверхностью солнечного излучения</text>
<text x="55.3" y="2230.6" textLength="898.5" lengthAdjust="spacingAndGlyphs">и вклад отдельных компонентов атмосферы в поглощение</text>
</g>
</svg>

</body></html>
